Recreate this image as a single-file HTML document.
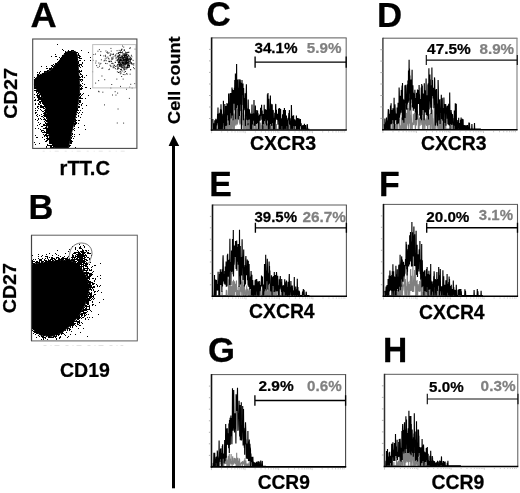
<!DOCTYPE html>
<html lang="en"><head><meta charset="utf-8"><title>Figure</title>
<style>html,body{margin:0;padding:0;background:#fff}svg{display:block}text{font-family:'Liberation Sans', Arial, Helvetica, sans-serif;stroke-linejoin:round}</style>
</head><body>
<svg width="520" height="493" viewBox="0 0 520 493">
<rect width="520" height="493" fill="#fff"/>
<text transform="translate(30.6 26.5) scale(1.022 1)" font-size="35.5" font-weight="bold" fill="#000" stroke="#000" stroke-width="0.25">A</text>
<text transform="translate(28.5 218.6) scale(0.970 1)" font-size="35.5" font-weight="bold" fill="#000" stroke="#000" stroke-width="0.25">B</text>
<text transform="translate(206.5 25.9) scale(0.946 1)" font-size="35.5" font-weight="bold" fill="#000" stroke="#000" stroke-width="0.25">C</text>
<text transform="translate(376.9 27.1) scale(0.980 1)" font-size="35.5" font-weight="bold" fill="#000" stroke="#000" stroke-width="0.25">D</text>
<text transform="translate(209.3 196.3) scale(0.952 1)" font-size="35.5" font-weight="bold" fill="#000" stroke="#000" stroke-width="0.25">E</text>
<text transform="translate(379.1 195.8) scale(0.956 1)" font-size="35.5" font-weight="bold" fill="#000" stroke="#000" stroke-width="0.25">F</text>
<text transform="translate(208.1 361.9) scale(0.977 1)" font-size="35.5" font-weight="bold" fill="#000" stroke="#000" stroke-width="0.25">G</text>
<text transform="translate(383 362) scale(0.945 1)" font-size="35.5" font-weight="bold" fill="#000" stroke="#000" stroke-width="0.25">H</text>
<text transform="translate(16.8 118.8) rotate(-90) scale(1.086 1)" font-size="18.3" font-weight="bold" fill="#000" stroke="#000" stroke-width="0.25">CD27</text>
<text transform="translate(59.6 174.6) scale(1.040 1)" font-size="19.4" font-weight="bold" fill="#000" stroke="#000" stroke-width="0.25">rTT.C</text>
<text transform="translate(16.4 313.3) rotate(-90) scale(1.075 1)" font-size="18.3" font-weight="bold" fill="#000" stroke="#000" stroke-width="0.25">CD27</text>
<text transform="translate(60 376.7) scale(0.976 1)" font-size="20" font-weight="bold" fill="#000" stroke="#000" stroke-width="0.25">CD19</text>
<text transform="translate(179.9 123.9) rotate(-90) scale(1.040 1)" font-size="17.4" font-weight="bold" fill="#000" stroke="#000" stroke-width="0.25">Cell count</text>
<text transform="translate(249.9 149.6) scale(1.009 1)" font-size="19.4" font-weight="bold" fill="#000" stroke="#000" stroke-width="0.25">CXCR3</text>
<text transform="translate(420.9 150.4) scale(1.000 1)" font-size="19.4" font-weight="bold" fill="#000" stroke="#000" stroke-width="0.25">CXCR3</text>
<text transform="translate(249 318.4) scale(0.999 1)" font-size="19.4" font-weight="bold" fill="#000" stroke="#000" stroke-width="0.25">CXCR4</text>
<text transform="translate(419 318.6) scale(0.999 1)" font-size="19.4" font-weight="bold" fill="#000" stroke="#000" stroke-width="0.25">CXCR4</text>
<text transform="translate(257.7 488.8) scale(0.988 1)" font-size="19.4" font-weight="bold" fill="#000" stroke="#000" stroke-width="0.25">CCR9</text>
<text transform="translate(431.5 488.5) scale(1.002 1)" font-size="19.4" font-weight="bold" fill="#000" stroke="#000" stroke-width="0.25">CCR9</text>
<rect x="172" y="144" width="3" height="344.3" fill="#000"/>
<path d="M173.6 135.3L179.2 146H168.6Z" fill="#000"/>
<clipPath id="ca"><rect x="33.4" y="39.5" width="103" height="108.4"/></clipPath>
<g clip-path="url(#ca)">
<path d="M67 51.8L62.8 55.8L57.2 63.8L50.8 70.2L43.5 73.4L37.8 76L34.6 80L34.4 84.8L37 90L40 93.5L42.5 98L45.5 105.5L47.5 119L48.5 132.4L50.5 141.8L55 148.2L68.4 148.2L69.7 141.8L71.7 132.4L75.1 118.9L77.8 105.5L79.6 92L79.4 80.4L78.3 66.9L77.3 55L75.5 51.4Z" fill="#000" stroke="#000" stroke-width="0.8" stroke-linejoin="round"/>
<path d="M53 66.5h1M49 69.5h1M64 53.5h1M62 49.5h1M62 56.5h1M59 60.5h1M51 67.5h1M55 56.5h1M59 62.5h1M55 63.5h1M65 51.5h1M56 64.5h1M60 59.5h1M50 69.5h1M47 71.5h1M34 77.5h1M60 58.5h1M65 54.5h1M56 63.5h1M39 75.5h1M63 50.5h1M40 74.5h1M65 53.5h1M57 59.5h1M54 67.5h1M63 55.5h1M45 71.5h1M37 76.5h1M52 66.5h1M50 68.5h1M40 71.5h1M38 74.5h1M48 70.5h1M46 66.5h1M44 72.5h1M43 73.5h1M66 52.5h1M37 75.5h1M47 70.5h1M38 75.5h1M51 65.5h1M59 61.5h1M54 65.5h1M36 79.5h1M65 52.5h1M67 52.5h1M61 57.5h1M44 73.5h1M51 68.5h1M37 74.5h1M59 57.5h1M42 73.5h1M57 62.5h1M44 71.5h1M36 78.5h1M58 61.5h1M37 72.5h1M52 69.5h1M37 77.5h1M39 72.5h1M47 68.5h1M61 58.5h1M49 71.5h1M53 64.5h1M46 68.5h1M56 56.5h1M51 56.5h1M62 55.5h1M39 73.5h1M35 78.5h1M46 71.5h1M49 68.5h1M55 54.5h1M57 44.5h1M52 65.5h1M41 66.5h1M55 64.5h1M47 144.5h1M44 106.5h1M35 99.5h1M38 106.5h1M47 133.5h1M46 110.5h1M46 118.5h1M44 128.5h1M48 130.5h1M45 104.5h1M36 115.5h1M49 135.5h1M52 144.5h1M47 121.5h1M46 120.5h1M39 99.5h1M48 131.5h1M50 143.5h1M37 116.5h1M46 136.5h1M40 93.5h1M46 125.5h1M41 94.5h1M43 103.5h1M43 124.5h1M46 147.5h1M43 108.5h1M46 111.5h1M34 84.5h1M39 94.5h1M51 145.5h1M34 85.5h1M39 101.5h1M35 90.5h1M46 128.5h1M41 110.5h1M43 104.5h1M46 135.5h1M42 132.5h1M44 116.5h1M41 131.5h1M45 132.5h1M41 116.5h1M44 136.5h1M42 116.5h1M43 99.5h1M35 88.5h1M47 120.5h1M47 131.5h1M35 100.5h1M53 147.5h1M47 135.5h1M40 106.5h1M37 91.5h1M49 132.5h1M34 86.5h1M36 112.5h1M48 135.5h1M39 95.5h1M42 101.5h1M47 129.5h1M35 112.5h1M41 105.5h1M41 99.5h1M42 106.5h1M35 104.5h1M50 137.5h1M48 128.5h1M35 87.5h1M43 134.5h1M34 80.5h1M45 125.5h1M47 124.5h1M47 136.5h1M46 117.5h1M50 146.5h1M44 119.5h1M47 111.5h1M44 118.5h1M37 93.5h1M47 130.5h1M37 94.5h1M36 92.5h1M49 124.5h1M45 120.5h1M47 139.5h1M45 115.5h1M45 110.5h1M46 115.5h1M40 107.5h1M51 143.5h1M53 145.5h1M48 119.5h1M37 114.5h1M35 103.5h1M44 102.5h1M37 95.5h1M38 92.5h1M41 126.5h1M49 145.5h1M38 100.5h1M34 97.5h1M43 117.5h1M44 114.5h1M53 146.5h1M39 96.5h1M46 109.5h1M45 119.5h1M40 98.5h1M42 95.5h1M42 111.5h1M38 97.5h1M42 107.5h1M47 140.5h1M48 139.5h1M50 140.5h1M44 104.5h1M37 107.5h1M51 142.5h1M49 141.5h1M45 106.5h1M47 128.5h1M49 140.5h1M34 82.5h1M45 127.5h1M47 123.5h1M44 105.5h1M43 106.5h1M34 87.5h1M37 106.5h1M38 93.5h1M38 119.5h1M38 108.5h1M42 100.5h1M38 96.5h1M45 122.5h1M38 104.5h1M38 128.5h1M44 113.5h1M46 116.5h1M47 114.5h1M48 127.5h1M41 114.5h1M47 137.5h1M44 139.5h1M36 86.5h1M34 88.5h1M46 127.5h1M44 101.5h1M41 98.5h1M34 83.5h1M45 112.5h1M34 142.5h1M39 91.5h1M40 105.5h1M45 134.5h1M35 135.5h1M43 100.5h1M46 131.5h1M36 90.5h1M50 142.5h1M35 110.5h1M46 138.5h1M53 144.5h1M39 102.5h1M39 124.5h1M39 98.5h1M46 112.5h1M40 118.5h1M36 87.5h1M46 141.5h1M44 121.5h1M47 110.5h1M40 109.5h1M51 146.5h1M37 100.5h1M37 110.5h1M52 145.5h1M45 107.5h1M38 103.5h1M46 129.5h1M41 101.5h1M41 107.5h1M49 133.5h1M34 90.5h1M38 95.5h1M43 107.5h1M34 79.5h1M44 112.5h1M39 115.5h1M40 97.5h1M44 108.5h1M47 112.5h1M37 120.5h1M40 101.5h1M43 115.5h1M38 99.5h1M40 99.5h1M43 101.5h1M50 145.5h1M47 119.5h1M40 103.5h1M43 113.5h1M36 91.5h1M41 119.5h1M46 130.5h1M45 128.5h1M40 94.5h1M46 132.5h1M35 108.5h1M41 97.5h1M44 115.5h1M35 119.5h1M47 115.5h1M42 103.5h1M45 111.5h1M52 143.5h1M54 144.5h1M34 81.5h1M43 119.5h1M37 137.5h1M44 103.5h1M50 141.5h1M47 116.5h1M39 104.5h1M45 105.5h1M39 143.5h1M42 126.5h1M43 111.5h1M38 98.5h1M45 116.5h1M45 114.5h1M34 100.5h1M51 147.5h1M46 114.5h1M36 137.5h1M43 130.5h1M49 139.5h1M46 140.5h1M50 147.5h1M35 113.5h1M47 132.5h1M39 97.5h1M48 132.5h1M45 135.5h1M44 124.5h1M46 134.5h1M37 97.5h1M40 123.5h1M41 106.5h1M44 135.5h1M41 100.5h1M52 147.5h1M48 145.5h1M37 96.5h1M47 138.5h1M44 125.5h1M41 96.5h1M45 141.5h1M42 98.5h1M43 128.5h1M35 144.5h1M38 118.5h1M48 122.5h1M38 122.5h1M49 137.5h1M54 146.5h1M35 128.5h1M36 95.5h1M44 132.5h1M38 90.5h1M40 129.5h1M44 131.5h1M41 130.5h1M49 143.5h1M37 125.5h1M40 102.5h1M49 138.5h1M48 124.5h1M42 130.5h1M34 94.5h1M38 91.5h1M41 95.5h1M43 125.5h1M45 123.5h1M46 121.5h1M42 99.5h1M49 142.5h1M48 133.5h1M47 145.5h1M42 102.5h1M47 125.5h1M46 133.5h1M46 124.5h1M43 102.5h1M36 88.5h1M48 129.5h1M39 92.5h1M47 117.5h1M46 123.5h1M44 110.5h1M46 126.5h1M43 132.5h1M37 90.5h1M48 138.5h1M45 109.5h1M42 137.5h1M46 146.5h1M45 113.5h1M75 119.5h1M78 62.5h1M71 138.5h1M80 74.5h1M79 77.5h1M81 98.5h1M81 88.5h1M79 112.5h1M79 76.5h1M69 146.5h1M74 121.5h1M78 57.5h1M73 138.5h1M75 122.5h1M80 102.5h1M79 60.5h1M81 85.5h1M69 145.5h1M70 143.5h1M79 102.5h1M80 97.5h1M78 53.5h1M79 57.5h1M71 141.5h1M72 141.5h1M79 104.5h1M79 85.5h1M78 103.5h1M74 126.5h1M70 145.5h1M76 114.5h1M81 81.5h1M78 54.5h1M80 88.5h1M78 65.5h1M76 111.5h1M77 110.5h1M76 110.5h1M78 116.5h1M76 120.5h1M80 64.5h1M82 66.5h1M81 87.5h1M78 123.5h1M74 123.5h1M82 83.5h1M75 124.5h1M79 100.5h1M82 98.5h1M79 79.5h1M79 97.5h1M80 73.5h1M82 75.5h1M71 143.5h1M74 125.5h1M77 108.5h1M78 96.5h1M70 142.5h1M80 77.5h1M77 59.5h1M70 141.5h1M70 140.5h1M80 84.5h1M79 70.5h1M78 71.5h1M79 56.5h1M75 120.5h1M80 110.5h1M74 128.5h1M80 89.5h1M72 134.5h1M71 135.5h1M78 63.5h1M80 67.5h1M71 142.5h1M79 106.5h1M79 58.5h1M78 55.5h1M79 65.5h1M80 93.5h1M71 137.5h1M81 89.5h1M79 66.5h1M73 123.5h1M78 61.5h1M80 85.5h1M75 121.5h1M77 52.5h1M76 117.5h1M78 106.5h1M80 94.5h1M72 136.5h1M78 80.5h1M79 107.5h1M76 52.5h1M70 139.5h1M79 71.5h1M81 95.5h1M80 80.5h1M79 98.5h1M80 79.5h1M79 64.5h1M80 86.5h1M80 71.5h1M76 122.5h1M79 101.5h1M78 107.5h1M81 70.5h1M75 116.5h1M76 123.5h1M77 109.5h1M79 55.5h1M80 100.5h1M77 112.5h1M73 129.5h1M74 124.5h1M80 117.5h1M71 140.5h1M79 95.5h1M72 133.5h1M80 96.5h1M79 72.5h1M79 94.5h1M74 136.5h1M80 101.5h1M82 108.5h1M74 134.5h1M75 147.5h1M82 76.5h1M78 127.5h1M74 130.5h1M83 93.5h1M90 60.5h1M78 120.5h1M68 50.5h1M69 51.5h1M71 51.5h1M68 51.5h1M74 51.5h1M70 51.5h1M73 50.5h1M71 50.5h1M72 50.5h1M78 115.5h1M84 84.5h1M82 80.5h1M82 86.5h1M81 58.5h1M81 114.5h1M90 88.5h1M78 113.5h1M84 125.5h1M86 87.5h1M82 103.5h1M82 79.5h1M86 105.5h1M80 56.5h1M82 63.5h1M81 105.5h1M85 87.5h1M81 74.5h1M84 77.5h1M81 71.5h1M85 98.5h1M90 57.5h1M81 79.5h1M82 112.5h1M78 110.5h1M81 65.5h1M82 77.5h1M84 60.5h1M88 52.5h1M81 64.5h1M80 58.5h1M82 62.5h1M82 94.5h1M88 95.5h1M75 123.5h1M82 88.5h1M80 98.5h1M79 134.5h1M81 104.5h1M81 76.5h1M80 60.5h1M86 75.5h1M79 120.5h1M81 50.5h1M85 129.5h1" stroke="#000" stroke-width="1" fill="none" opacity="1.0"/>
<path d="M122.6 53.6h0.9M123.6 65h0.9M127.4 56.9h0.9M122.6 58.2h0.9M122.2 58.9h0.9M122.9 55.6h0.9M125.3 59.2h0.9M124.8 61.2h0.9M130.9 63.6h0.9M128.6 67.5h0.9M124.8 60h0.9M118.7 65.6h0.9M124.3 54.3h0.9M128.8 66.2h0.9M125.7 60h0.9M129.7 59.7h0.9M117.7 53.3h0.9M124.8 67.1h0.9M127.6 66.9h0.9M122.8 55h0.9M125.3 58.2h0.9M126.2 63.6h0.9M131.2 59.4h0.9M124.9 53.9h0.9M120.4 59h0.9M123.1 63.8h0.9M124.3 55.4h0.9M124.8 62.7h0.9M127.5 62h0.9M127.1 67.6h0.9M126.4 58.9h0.9M122.6 65.7h0.9M123.8 50h0.9M127.3 57.5h0.9M121.7 60.6h0.9M118.9 60.1h0.9M126.3 59.9h0.9M118.9 58.8h0.9M123.9 60.7h0.9M122.7 62.8h0.9M120.1 59.5h0.9M123.9 55.5h0.9M129.5 61.9h0.9M125.7 52.6h0.9M128.8 58.4h0.9M123.1 68.9h0.9M128.5 65h0.9M120.2 63h0.9M130.9 63.8h0.9M125.1 55.6h0.9M133.4 63.6h0.9M125.5 60h0.9M118.8 60.6h0.9M126.5 68.7h0.9M117.2 66.1h0.9M122.4 67.7h0.9M128.1 55.3h0.9M119.4 61.1h0.9M120.6 66.2h0.9M124.4 54.2h0.9M126.8 62.4h0.9M120.2 64.4h0.9M123.9 68.8h0.9M120.4 60.1h0.9M125.7 55.3h0.9M121.9 66.9h0.9M123.8 59.5h0.9M118.8 64.4h0.9M129.8 57.6h0.9M126 60.1h0.9M128.5 60.2h0.9M120.3 60.1h0.9M126.1 62.7h0.9M119 65.2h0.9M119.4 64.5h0.9M126.2 56.8h0.9M125.7 62.3h0.9M122.8 66.1h0.9M125.4 61.9h0.9M125.3 55.6h0.9M121.9 59h0.9M124.6 55.3h0.9M123.3 59.6h0.9M127.5 63.9h0.9M128.5 56.4h0.9M128.6 59h0.9M122.4 57.8h0.9M123.2 60.7h0.9M122.5 54.2h0.9M121.6 62.6h0.9M120.7 73h0.9M119.3 62h0.9M121.6 60.1h0.9M130.2 62.9h0.9M126.7 66.7h0.9M128 52.4h0.9M130.4 62.9h0.9M120.7 58.5h0.9M127.7 63h0.9M125.6 63.7h0.9M122.8 74.5h0.9M125.5 54.6h0.9M129.4 48.5h0.9M127.8 65.7h0.9M127 60.1h0.9M124.3 64.7h0.9M123.3 59.9h0.9M123.7 62.6h0.9M125.7 63.6h0.9M116.4 66h0.9M122.7 67.9h0.9M128.5 52.2h0.9M124.7 56.6h0.9M121.4 62.1h0.9M126.8 65.3h0.9M126.9 57.9h0.9M133.9 68.7h0.9M126.9 62.5h0.9M126.2 63.9h0.9M123.8 55.4h0.9M122.2 57.1h0.9M127 65.6h0.9M129.4 56.2h0.9M128.6 61.6h0.9M123.7 56.7h0.9M126.6 67h0.9M122.9 62.6h0.9M128.9 66.7h0.9M125.4 63.2h0.9M125.9 54.7h0.9M124.8 62.3h0.9M129.8 57.9h0.9M130.3 69.7h0.9M127.3 57.9h0.9M125.7 59h0.9M130 69.7h0.9M129.6 61.7h0.9M128.7 65.7h0.9M126.8 63.9h0.9M124.4 63.5h0.9M129.2 59.1h0.9M123.4 62.1h0.9M129.9 60.9h0.9M125.9 57.4h0.9M118 64.1h0.9M118.2 61.8h0.9M128.1 55.3h0.9M122 56.4h0.9M121.7 61.2h0.9M127.7 62.3h0.9M125.6 59h0.9M124.2 69.6h0.9M118.5 68.5h0.9M132.7 60.4h0.9M124.7 57.4h0.9M127.3 60.1h0.9M126.3 60.8h0.9M125.7 55.5h0.9M126.4 62.1h0.9M133.3 65.1h0.9M122.1 62.3h0.9M121.7 61h0.9M118.6 56h0.9M129.9 59h0.9M126.8 58.7h0.9M125.9 60.1h0.9M122.2 51.9h0.9M125.1 52.1h0.9M120.3 59.7h0.9M119.4 60.4h0.9M119.3 66.5h0.9M122.6 57.5h0.9M121 49.4h0.9M123.1 59.8h0.9M127.3 56.6h0.9M125 59.2h0.9M119.9 64.2h0.9M125 57.2h0.9M122.5 58.5h0.9M121.2 66.5h0.9M128.6 62.9h0.9M124.7 55.8h0.9M121.6 56.4h0.9M122.1 46h0.9M124.5 64.4h0.9M122.2 63.6h0.9M119.9 66.7h0.9M112.8 63.8h0.9M126.1 61.8h0.9M131.8 63.9h0.9M123.8 50.6h0.9M125.7 59.7h0.9M120.2 69.5h0.9M119.8 71.5h0.9M130.2 59.1h0.9M129.9 60.9h0.9M121.9 57.1h0.9M132.5 64.2h0.9M115.2 66.5h0.9M127.9 60h0.9M115.8 60.2h0.9M122 63.2h0.9M126.4 60.4h0.9M129.8 59.6h0.9M126.9 67.2h0.9M127.9 61.8h0.9M123.3 47.1h0.9M124.1 56.9h0.9M128.5 61.2h0.9M124.2 66.7h0.9M120.4 60.4h0.9M121.6 49.2h0.9M125.5 62.7h0.9M125.6 53.1h0.9M118 62.7h0.9M126.9 52.4h0.9M126.6 54.2h0.9M122.9 63.9h0.9M125.8 54h0.9M122 62.6h0.9M125.9 58.8h0.9M128.5 59.3h0.9M127 67.1h0.9M127.4 67.5h0.9M123.5 63h0.9M124.1 57.3h0.9M122.7 64.6h0.9M120.9 52.6h0.9M119.6 63.4h0.9M124.4 58.9h0.9M125.6 57.6h0.9M124 59.3h0.9M121.7 71h0.9M125.4 63.5h0.9M127.1 59.1h0.9M124.8 61.9h0.9M119.2 65.8h0.9M128.5 65h0.9M128.3 64.1h0.9M126.7 55h0.9M126.4 54.4h0.9M118 58.5h0.9M128 62.8h0.9M130.9 58.5h0.9M126.9 62.6h0.9M128.6 63.5h0.9M121.6 63h0.9M121.2 57.5h0.9M123.6 54.2h0.9M128.2 65.5h0.9M127.1 60.7h0.9M128.1 59.1h0.9M127.1 59.6h0.9M124.5 61.1h0.9M127.9 64.7h0.9M131.4 56.8h0.9M117.9 62.9h0.9M126.8 58.5h0.9M129.1 65.5h0.9M118.9 61.4h0.9M124.5 65.2h0.9M125.6 60.3h0.9M125.2 59.3h0.9M126.6 63.2h0.9M123.2 59.5h0.9M127.1 62.2h0.9M123.5 57.6h0.9M126 61.2h0.9M119.1 52.5h0.9M133 67.6h0.9M123.9 61h0.9M126.2 55.4h0.9M123.8 72.2h0.9M114.9 62.3h0.9M122.5 67.5h0.9M124.5 64h0.9M125.6 69.2h0.9M123.3 60.4h0.9M119.6 72.2h0.9M126.3 58.3h0.9M131.1 55.3h0.9M123.9 50h0.9M123.6 63.3h0.9M121.8 62.6h0.9M123.2 58.3h0.9M127.6 65.5h0.9M126.1 73.7h0.9M125.1 63.1h0.9M121.1 64.3h0.9M126.1 61.4h0.9M121.9 65.1h0.9M127.2 58.6h0.9M124.1 56.3h0.9M128.3 60.6h0.9M121.2 64.6h0.9M124.8 60.8h0.9M123.5 66.1h0.9M122.6 65h0.9M131 62.7h0.9M123.7 70h0.9M118.7 55.5h0.9M130.1 59.6h0.9M120.3 57.6h0.9M127.1 64.2h0.9M119.1 62.5h0.9M124.5 53.9h0.9M122.5 61h0.9M125.7 67.5h0.9M121 59.8h0.9M121.8 52.5h0.9M127.6 67.3h0.9M128.3 59.4h0.9M121 67.4h0.9M123.5 63.2h0.9M123.4 57.4h0.9M126.7 52.6h0.9M125.1 71.5h0.9M124.6 68.8h0.9M117 60h0.9M119 65h0.9M127 58.5h0.9M125.1 64.7h0.9M122.9 60.9h0.9M126.5 56.5h0.9M124.2 67.4h0.9M123.3 58.2h0.9M125.9 67.9h0.9M126.7 56.4h0.9M122.2 55.8h0.9M100.9 59.8h0.9M120.5 61h0.9M117.8 68.8h0.9M117.6 56.2h0.9M108.9 61.7h0.9M120.1 52.6h0.9M117.4 57.3h0.9M109.9 55.7h0.9M120.1 65.5h0.9M117.8 53.6h0.9M115.7 57.4h0.9M120.7 50.3h0.9M118.3 57.6h0.9M119 57.4h0.9M120.1 57.5h0.9M120.3 52.7h0.9M108.5 52.7h0.9M113.4 66.9h0.9M118.3 53.1h0.9M116.9 71.8h0.9M112.3 58h0.9M112.5 58.8h0.9M117.6 61.8h0.9M118.8 55.1h0.9M112.6 54.6h0.9M100.4 63.4h0.9M120.1 60h0.9M117.1 64.8h0.9M107.4 57.1h0.9M119.3 54.5h0.9M118.1 67.1h0.9M109.9 54.1h0.9M120.7 55.7h0.9M117.2 64.8h0.9M118.2 59.5h0.9M115.4 55.9h0.9M112.7 56.9h0.9M118.1 62.6h0.9M118.8 59.3h0.9M119.9 58h0.9M115 68.7h0.9M111.6 59.4h0.9M109.5 61.6h0.9M120.8 65.8h0.9M114.8 62.4h0.9M119.9 60.5h0.9M117.4 56.5h0.9M120.3 60.5h0.9M119.9 73.8h0.9M100.2 55.5h0.9M119.8 63.1h0.9M120.9 69.8h0.9M119.6 52.3h0.9M98.9 49.6h0.9M105.2 56.6h0.9M97.5 67.4h0.9M101.5 68.3h0.9M107.9 58.4h0.9M110.7 54.2h0.9M98.4 63h0.9M113.8 65.4h0.9M103.6 60.9h0.9M110.5 48.4h0.9M109 61.3h0.9M118.8 57h0.9M120.9 50.4h0.9M97.5 51.2h0.9M120.9 64h0.9M117.7 58.8h0.9M111.9 63.3h0.9M107.5 53.5h0.9M120 51.1h0.9M118.1 52.8h0.9M109.6 65.2h0.9M109.6 55.6h0.9M106.5 52.5h0.9M104.7 59h0.9M105.8 60.7h0.9M110.6 61h0.9M106.6 63.6h0.9M109 69.1h0.9M119.5 64.1h0.9M112.7 66.1h0.9M119.5 62.9h0.9M105.8 58.1h0.9M96.2 65.6h0.9M114.2 65.3h0.9M100 55.2h0.9M118.7 61.8h0.9M105.1 55.3h0.9M120.7 69.9h0.9M102.3 68h0.9M95.6 61h0.9M117.7 55.7h0.9M120.4 57.2h0.9M105.5 51h0.9M120.7 60.4h0.9M119.5 61.2h0.9M120.8 69.1h0.9M120.8 56.4h0.9M105.1 63.4h0.9M104.4 60.5h0.9M117.2 68.2h0.9M108.6 59h0.9M115.6 58.4h0.9M116.3 53.8h0.9M111 61.6h0.9M116.6 50.7h0.9M111.3 58.9h0.9M119.2 62.6h0.9M95.3 63h0.9M116.8 69.4h0.9M110.8 51.1h0.9M117.1 59.8h0.9M95.1 54.1h0.9M115.1 55h0.9M112.6 54.3h0.9M119.3 55.2h0.9M111.3 57.8h0.9M108.3 61.3h0.9M118.5 64.6h0.9M93.3 54.5h0.9M92.6 60.3h0.9M126 89.2h0.9M113.1 54.1h0.9M107.1 52h0.9M108.4 69.6h0.9M112.1 95h0.9M114.5 56h0.9M98.2 80.6h0.9M113.7 67.7h0.9M112.7 67.7h0.9M121.2 76.5h0.9M92.2 71.8h0.9M101.5 76h0.9M111.3 84.5h0.9M134.4 83.6h0.9M118.4 72.4h0.9M95.2 83.1h0.9M99.1 66.2h0.9M116.9 60.7h0.9M129.7 74.2h0.9M134.7 49.1h0.9M111.4 63.5h0.9M116.4 79.1h0.9M117.2 93.1h0.9M110.3 65.8h0.9M124.5 74.6h0.9M102.4 92.2h0.9M100.4 51.6h0.9M114.7 91.7h0.9M129.3 87.2h0.9M118.1 72.5h0.9M103.4 55.9h0.9M110.4 88h0.9M115.5 95.1h0.9M126.8 74.1h0.9M117.2 68h0.9M131.7 88h0.9M98.2 91.3h0.9M121.1 65.3h0.9M122.7 79.1h0.9M120.1 86.4h0.9M116.8 123h0.9M130.3 84.3h0.9M104.1 104.9h0.9M118.7 50.4h0.9M110.5 66.6h0.9M117.7 56.7h0.9M99.5 64.2h0.9M98.6 91.8h0.9M128.9 98.4h0.9M117.6 109h0.9M104.3 79.7h0.9M117.9 60.2h0.9M123.2 123.1h0.9M129.8 47.7h0.9" stroke="#000" stroke-width="0.9" fill="none"/>
</g>
<rect x="92.7" y="44.6" width="43.2" height="43.3" fill="none" stroke="#bdbdbd" stroke-width="1"/>
<rect x="32.7" y="39" width="104.2" height="109.4" fill="none" stroke="#4a4a4a" stroke-width="1.1"/>
<path d="M42.7 151.2H128.9" stroke="#e6e6e6" stroke-width="1" stroke-dasharray="2 5 1 4 4 6" fill="none"/>
<clipPath id="cb"><rect x="32" y="235.7" width="104.8" height="104.7"/></clipPath>
<g clip-path="url(#cb)">
<path d="M29 264.6L32.6 264.3L43.4 262.8L58.8 260.5L69.5 260.5L75.7 262.8L81.8 268.9L87.2 278.2L89.3 289L88 294.2L84.9 305L78.8 315.8L71.1 325L61.8 332.7L51 336.5L40.3 335L32.6 329L29 326Z" fill="#000" stroke="#000" stroke-width="0.8" stroke-linejoin="round"/>
<path d="M56 254.5h1M42 261.5h1M36 262.5h1M41 261.5h1M51 258.5h1M39 259.5h1M38 262.5h1M53 260.5h1M37 262.5h1M32 260.5h1M45 256.5h1M59 260.5h1M49 253.5h1M58 257.5h1M35 264.5h1M57 260.5h1M44 259.5h1M43 261.5h1M50 260.5h1M45 258.5h1M45 260.5h1M41 260.5h1M33 259.5h1M49 260.5h1M56 260.5h1M52 259.5h1M39 262.5h1M41 259.5h1M37 264.5h1M44 262.5h1M42 258.5h1M58 258.5h1M40 263.5h1M49 261.5h1M29 261.5h1M50 259.5h1M47 261.5h1M35 262.5h1M54 259.5h1M58 259.5h1M33 263.5h1M40 260.5h1M46 261.5h1M59 258.5h1M41 262.5h1M57 257.5h1M33 261.5h1M45 262.5h1M48 260.5h1M37 261.5h1M55 253.5h1M45 261.5h1M55 260.5h1M54 261.5h1M32 255.5h1M46 260.5h1M52 260.5h1M40 259.5h1M47 257.5h1M34 263.5h1M46 256.5h1M47 258.5h1M55 259.5h1M30 261.5h1M30 258.5h1M35 259.5h1M52 258.5h1M46 254.5h1M32 263.5h1M48 259.5h1M51 259.5h1M30 263.5h1M38 256.5h1M50 261.5h1M57 250.5h1M31 263.5h1M30 264.5h1M39 263.5h1M51 257.5h1M52 257.5h1M44 260.5h1M56 257.5h1M31 253.5h1M36 261.5h1M52 261.5h1M41 256.5h1M36 263.5h1M46 262.5h1M51 262.5h1M48 262.5h1M33 264.5h1M42 262.5h1M53 258.5h1M54 258.5h1M36 264.5h1M58 260.5h1M56 258.5h1M32 262.5h1M39 260.5h1M38 258.5h1M34 261.5h1M32 261.5h1M39 261.5h1M48 261.5h1M52 255.5h1M42 255.5h1M38 254.5h1M47 256.5h1M51 261.5h1M49 257.5h1M72 259.5h1M61 259.5h1M69 259.5h1M66 259.5h1M83 266.5h1M64 256.5h1M83 265.5h1M71 260.5h1M62 260.5h1M68 260.5h1M74 260.5h1M65 258.5h1M85 265.5h1M79 265.5h1M63 258.5h1M63 259.5h1M78 263.5h1M60 259.5h1M72 260.5h1M82 262.5h1M72 258.5h1M74 261.5h1M69 249.5h1M75 259.5h1M78 265.5h1M83 261.5h1M79 262.5h1M60 256.5h1M64 258.5h1M76 263.5h1M72 255.5h1M80 260.5h1M67 258.5h1M61 260.5h1M73 259.5h1M69 260.5h1M79 260.5h1M67 260.5h1M73 261.5h1M62 257.5h1M70 260.5h1M67 257.5h1M69 258.5h1M81 266.5h1M71 259.5h1M72 254.5h1M66 258.5h1M74 252.5h1M76 261.5h1M72 257.5h1M80 266.5h1M74 259.5h1M74 257.5h1M81 262.5h1M73 253.5h1M77 262.5h1M80 264.5h1M61 258.5h1M75 261.5h1M73 257.5h1M62 259.5h1M74 258.5h1M72 262.5h1M81 268.5h1M73 256.5h1M68 259.5h1M82 266.5h1M78 254.5h1M73 260.5h1M79 264.5h1M72 256.5h1M64 260.5h1M65 253.5h1M76 264.5h1M75 262.5h1M78 264.5h1M65 259.5h1M68 256.5h1M62 258.5h1M59 259.5h1M76 258.5h1M81 264.5h1M79 261.5h1M71 257.5h1M66 260.5h1M67 259.5h1M81 267.5h1M79 266.5h1M63 257.5h1M58 255.5h1M78 252.5h1M88 284.5h1M77 321.5h1M74 321.5h1M87 309.5h1M90 282.5h1M88 278.5h1M89 297.5h1M81 315.5h1M89 289.5h1M86 305.5h1M88 282.5h1M90 289.5h1M83 268.5h1M79 317.5h1M87 298.5h1M83 269.5h1M78 317.5h1M74 323.5h1M91 292.5h1M91 287.5h1M87 296.5h1M87 306.5h1M91 293.5h1M91 286.5h1M81 314.5h1M85 272.5h1M80 317.5h1M88 302.5h1M93 278.5h1M84 307.5h1M75 321.5h1M82 323.5h1M84 272.5h1M78 321.5h1M86 301.5h1M100 285.5h1M84 270.5h1M88 276.5h1M84 312.5h1M87 300.5h1M78 316.5h1M90 297.5h1M92 282.5h1M84 268.5h1M92 288.5h1M82 315.5h1M88 281.5h1M79 318.5h1M89 296.5h1M84 310.5h1M86 270.5h1M86 299.5h1M83 267.5h1M82 311.5h1M79 316.5h1M74 324.5h1M91 294.5h1M75 323.5h1M88 298.5h1M86 303.5h1M83 309.5h1M87 278.5h1M89 273.5h1M90 283.5h1M78 319.5h1M90 288.5h1M90 293.5h1M84 309.5h1M76 320.5h1M91 289.5h1M77 318.5h1M73 321.5h1M78 324.5h1M92 272.5h1M86 275.5h1M90 294.5h1M79 320.5h1M85 306.5h1M81 311.5h1M87 299.5h1M82 313.5h1M89 308.5h1M78 318.5h1M89 284.5h1M81 313.5h1M90 298.5h1M91 267.5h1M89 305.5h1M86 274.5h1M92 278.5h1M90 284.5h1M83 313.5h1M96 284.5h1M90 281.5h1M91 269.5h1M97 276.5h1M87 303.5h1M71 325.5h1M89 298.5h1M83 270.5h1M72 324.5h1M90 296.5h1M88 280.5h1M94 298.5h1M77 323.5h1M88 296.5h1M100 278.5h1M85 312.5h1M89 286.5h1M87 302.5h1M87 280.5h1M75 325.5h1M89 285.5h1M89 293.5h1M87 275.5h1M86 302.5h1M89 306.5h1M73 323.5h1M87 301.5h1M94 281.5h1M76 321.5h1M85 275.5h1M89 279.5h1M84 273.5h1M88 286.5h1M83 317.5h1M89 282.5h1M77 322.5h1M82 310.5h1M76 326.5h1M90 300.5h1M89 292.5h1M90 273.5h1M79 315.5h1M86 306.5h1M88 277.5h1M88 292.5h1M94 280.5h1M83 312.5h1M80 314.5h1M84 269.5h1M85 273.5h1M86 271.5h1M92 304.5h1M85 308.5h1M92 298.5h1M89 281.5h1M77 319.5h1M81 309.5h1M87 272.5h1M90 286.5h1M89 269.5h1M87 277.5h1M86 300.5h1M73 325.5h1M86 273.5h1M86 308.5h1M83 310.5h1M83 273.5h1M88 285.5h1M88 300.5h1M77 317.5h1M73 324.5h1M94 286.5h1M92 274.5h1M88 294.5h1M82 317.5h1M87 336.5h1M71 324.5h1M79 325.5h1M87 273.5h1M82 314.5h1M89 287.5h1M87 297.5h1M83 308.5h1M88 268.5h1M85 268.5h1M90 295.5h1M88 301.5h1M85 305.5h1M89 294.5h1M87 274.5h1M83 311.5h1M88 295.5h1M80 332.5h1M78 328.5h1M79 322.5h1M89 275.5h1M81 318.5h1M85 270.5h1M86 314.5h1M90 287.5h1M91 290.5h1M88 309.5h1M89 299.5h1M79 321.5h1M87 268.5h1M93 284.5h1M90 275.5h1M85 310.5h1M89 309.5h1M94 287.5h1M78 322.5h1M77 324.5h1M73 322.5h1M88 319.5h1M90 276.5h1M89 277.5h1M97 291.5h1M85 309.5h1M89 264.5h1M91 297.5h1M84 314.5h1M86 272.5h1M93 287.5h1M93 283.5h1M93 304.5h1M83 328.5h1M90 285.5h1M92 266.5h1M98 314.5h1M103 299.5h1M91 296.5h1M84 316.5h1M79 323.5h1M81 316.5h1M94 291.5h1M91 270.5h1M87 267.5h1M95 265.5h1M72 323.5h1M85 318.5h1M100 263.5h1M85 319.5h1M81 322.5h1M100 275.5h1M101 292.5h1M80 325.5h1M32 328.5h1M38 335.5h1M69 328.5h1M56 334.5h1M43 337.5h1M68 328.5h1M36 333.5h1M56 335.5h1M59 338.5h1M32 327.5h1M69 330.5h1M39 334.5h1M43 339.5h1M49 337.5h1M36 332.5h1M57 334.5h1M33 333.5h1M31 329.5h1M30 329.5h1M56 339.5h1M47 339.5h1M54 336.5h1M70 326.5h1M49 336.5h1M61 333.5h1M56 338.5h1M58 334.5h1M59 337.5h1M44 335.5h1M37 333.5h1M72 327.5h1M44 337.5h1M53 336.5h1M48 337.5h1M38 332.5h1M70 329.5h1M41 335.5h1M41 339.5h1M55 336.5h1M41 336.5h1M36 331.5h1M59 334.5h1M54 335.5h1M42 336.5h1M52 337.5h1M62 332.5h1M50 337.5h1M70 327.5h1M70 334.5h1M51 337.5h1M48 336.5h1M60 336.5h1M42 337.5h1M72 325.5h1M45 338.5h1M31 327.5h1M43 336.5h1M68 336.5h1M55 337.5h1M71 331.5h1M69 329.5h1M34 331.5h1M46 336.5h1M66 332.5h1M33 329.5h1M56 336.5h1M63 333.5h1M32 330.5h1M35 331.5h1M43 335.5h1M61 334.5h1M35 332.5h1M36 337.5h1M58 335.5h1M67 330.5h1M64 334.5h1M65 335.5h1M33 331.5h1M72 326.5h1M29 327.5h1M60 337.5h1M65 330.5h1M67 337.5h1M67 328.5h1M31 328.5h1M37 332.5h1M43 338.5h1M33 328.5h1M45 337.5h1M29 328.5h1M70 325.5h1M34 332.5h1M39 336.5h1M35 334.5h1M62 333.5h1M67 329.5h1M53 337.5h1M75 334.5h1M83 251.5h1M74 253.5h1M79 252.5h1M77 259.5h1M77 256.5h1M84 255.5h1M80 259.5h1M84 258.5h1M80 247.5h1M77 250.5h1M81 259.5h1M83 256.5h1M81 258.5h1M81 260.5h1M75 248.5h1M85 250.5h1M79 257.5h1M82 253.5h1M84 259.5h1M79 256.5h1M87 260.5h1M79 247.5h1M81 257.5h1M85 254.5h1M84 256.5h1M75 256.5h1M85 259.5h1M80 262.5h1M83 253.5h1M87 253.5h1M78 260.5h1M68 262.5h1M82 251.5h1M85 257.5h1M79 254.5h1M79 255.5h1M82 264.5h1M77 260.5h1M80 257.5h1M77 254.5h1M86 251.5h1M81 261.5h1M83 255.5h1M80 254.5h1M75 252.5h1M82 250.5h1M75 257.5h1M73 255.5h1M75 253.5h1M78 272.5h1M78 259.5h1M84 261.5h1M86 264.5h1M80 255.5h1M87 264.5h1M79 259.5h1M78 257.5h1M82 257.5h1M74 265.5h1M83 263.5h1M80 261.5h1M75 247.5h1M75 249.5h1M81 254.5h1M86 250.5h1M87 257.5h1M84 257.5h1M91 255.5h1M75 255.5h1M76 256.5h1M80 246.5h1M79 248.5h1M78 253.5h1M88 250.5h1M84 253.5h1M82 254.5h1M79 258.5h1M84 252.5h1M80 263.5h1M80 258.5h1M80 253.5h1M80 256.5h1M83 258.5h1M79 253.5h1M80 248.5h1M72 246.5h1M86 260.5h1M84 262.5h1M85 252.5h1M79 244.5h1M83 260.5h1M78 256.5h1M82 261.5h1M78 261.5h1M77 257.5h1M79 263.5h1M80 271.5h1M78 262.5h1M77 263.5h1M78 255.5h1M82 255.5h1M81 263.5h1M84 263.5h1M83 262.5h1M85 255.5h1M76 259.5h1M83 254.5h1M82 252.5h1M75 263.5h1M84 246.5h1M77 255.5h1M89 259.5h1M83 245.5h1M81 265.5h1M82 256.5h1M81 256.5h1M88 253.5h1M86 255.5h1M84 247.5h1M86 265.5h1M87 252.5h1M84 260.5h1M82 259.5h1M88 252.5h1M89 258.5h1M81 252.5h1M78 251.5h1M77 252.5h1M82 258.5h1M83 252.5h1M86 256.5h1M81 255.5h1M85 263.5h1M83 264.5h1M81 251.5h1M83 250.5h1M76 252.5h1M81 248.5h1M85 261.5h1M82 260.5h1M86 266.5h1M77 258.5h1M86 263.5h1M88 257.5h1M89 253.5h1M86 259.5h1M85 264.5h1M80 270.5h1M76 254.5h1M82 249.5h1M90 253.5h1M77 264.5h1M85 266.5h1M80 251.5h1M68 251.5h1M86 312.5h1M85 315.5h1M92 287.5h1M86 309.5h1M91 299.5h1M87 317.5h1M93 299.5h1M93 286.5h1M95 291.5h1M94 283.5h1M89 283.5h1M87 311.5h1M88 306.5h1M93 290.5h1M91 282.5h1M89 317.5h1M90 262.5h1M95 278.5h1M92 302.5h1M93 296.5h1M88 272.5h1M92 296.5h1M92 305.5h1M91 295.5h1M94 292.5h1M88 304.5h1M99 302.5h1M88 273.5h1M93 297.5h1M92 283.5h1M89 274.5h1M86 268.5h1M93 295.5h1M95 279.5h1M93 271.5h1M87 266.5h1M91 274.5h1M89 300.5h1M89 270.5h1M86 310.5h1M89 307.5h1M91 285.5h1M90 270.5h1M86 307.5h1M87 263.5h1M97 286.5h1M92 284.5h1M88 314.5h1M89 276.5h1M98 290.5h1M91 311.5h1M87 269.5h1M91 275.5h1M87 304.5h1M92 317.5h1M94 265.5h1M84 315.5h1M84 265.5h1M94 294.5h1M92 301.5h1M99 286.5h1M84 313.5h1M95 294.5h1M88 299.5h1M88 303.5h1M85 313.5h1M91 273.5h1M86 262.5h1M90 274.5h1M97 285.5h1M89 278.5h1M95 305.5h1M87 276.5h1M93 289.5h1M90 310.5h1M87 270.5h1" stroke="#000" stroke-width="1" fill="none" opacity="1.0"/>
</g>
<path d="M70.6 259.5C67.6 258 69.4 255.9 69.6 254C69.8 252.1 70.4 249.6 71.5 248C72.6 246.4 74.3 245 76 244.2C77.7 243.4 79.6 243 81.5 243C83.4 243 85.6 243.5 87.2 244.4C88.8 245.3 90.2 246.9 91 248.5C91.8 250.1 92.1 252.2 92 254C91.9 255.8 91 258 90.3 259.5C89.5 261 90.8 263 87.5 263" fill="none" stroke="#606060" stroke-width="0.85"/>
<rect x="31.5" y="235.2" width="105.8" height="105.7" fill="none" stroke="#5e5e5e" stroke-width="1"/>
<path d="M31.5 235.2V340.9" stroke="#444" stroke-width="1.2" fill="none"/>
<path d="M43.5 345.5H123.3" stroke="#e2e2e2" stroke-width="1" stroke-dasharray="3 4 1 3 5 6" fill="none"/>
<path d="M212.8 129.3L213 129.3L213.2 129.3L213.4 129.3L213.6 129.3L213.8 129.3L214 129.3L214.2 129.3L214.4 129.3L214.6 129.3L214.8 129.3L215 129.3L215.2 129.3L215.4 129.3L215.6 129.3L215.8 129.3L216 129.3L216.2 129.3L216.4 129.3L216.6 129.3L216.8 129.3L217 129.3L217.2 129.3L217.4 129.3L217.6 129.3L217.8 129.3L218 129.3L218.2 129.3L218.4 129.3L218.6 129.3L218.8 129.3L219 129.3L219.2 123.6L219.4 129.3L219.6 129.3L219.8 129.3L220 129.3L220.2 129.3L220.4 125.1L220.6 129.3L220.8 129.3L221 129.3L221.2 129.3L221.4 129.3L221.6 129.3L221.8 129.3L222 129.3L222.2 129.3L222.4 129.3L222.6 129.3L222.8 129.3L223 129.3L223.2 129.3L223.4 129.3L223.6 129.3L223.8 129.3L224 129.3L224.2 129.3L224.4 129.3L224.6 129.3L224.8 129.3L225 129.3L225.2 129.3L225.4 129.3L225.6 122.9L225.8 129.3L226 129.3L226.2 125.5L226.4 123.4L226.6 118.4L226.8 129.3L227 129.3L227.2 122.7L227.4 125.6L227.6 124L227.8 129.3L228 129.3L228.2 118.9L228.4 129.3L228.6 117.9L228.8 122.8L229 120.6L229.2 118.4L229.4 116L229.6 129.3L229.8 129.3L230 129.3L230.2 118.1L230.4 129.3L230.6 129.3L230.8 113.2L231 129.3L231.2 118.4L231.4 125.8L231.6 129.3L231.8 129.3L232 129.3L232.2 129.3L232.4 120.8L232.6 120.2L232.8 124L233 119.3L233.2 121L233.4 129.3L233.6 119.9L233.8 113.4L234 125.8L234.2 118.4L234.4 129.3L234.6 118.8L234.8 120.8L235 110.2L235.2 99.3L235.4 107.7L235.6 125.6L235.8 122.7L236 125.4L236.2 123.2L236.4 104.4L236.6 119.3L236.8 124L237 117.9L237.2 123.3L237.4 124.6L237.6 117.6L237.8 108.9L238 118L238.2 109.5L238.4 119.9L238.6 109.6L238.8 105.2L239 103.4L239.2 120.8L239.4 122.6L239.6 118.6L239.8 124.4L240 124L240.2 115.7L240.4 123.5L240.6 123.1L240.8 120.7L241 118.9L241.2 118.4L241.4 123.3L241.6 129.3L241.8 113L242 113.8L242.2 113.4L242.4 125.2L242.6 119.5L242.8 112.9L243 109.2L243.2 129.3L243.4 125.5L243.6 124.8L243.8 114.5L244 120.2L244.2 129.3L244.4 119.3L244.6 129.3L244.8 126L245 118.4L245.2 122.7L245.4 123.6L245.6 120.1L245.8 129.3L246 123.8L246.2 113.1L246.4 123.9L246.6 129.3L246.8 129.3L247 129.3L247.2 129.3L247.4 126L247.6 123.4L247.8 129.3L248 129.3L248.2 129.3L248.4 129.3L248.6 122.9L248.8 129.3L249 123.9L249.2 129.3L249.4 129.3L249.6 129.3L249.8 115.5L250 129.3L250.2 122.6L250.4 122.9L250.6 129.3L250.8 129.3L251 129.3L251.2 129.3L251.4 125.1L251.6 122.6L251.8 129.3L252 129.3L252.2 129.3L252.4 124.5L252.6 129.3L252.8 123.5L253 124.2L253.2 129.3L253.4 123.6L253.6 129.3L253.8 129.3L254 129.3L254.2 129.3L254.4 129.3L254.6 129.3L254.8 129.3L255 125.2L255.2 129.3L255.4 120.3L255.6 129.3L255.8 129.3L256 129.3L256.2 129.3L256.4 129.3L256.6 129.3L256.8 123.6L257 129.3L257.2 129.3L257.4 129.3L257.6 129.3L257.8 129.3L258 129.3L258.2 129.3L258.4 129.3L258.6 129.3L258.8 129.3L259 117.6L259.2 125.9L259.4 129.3L259.6 129.3L259.8 129.3L260 129.3L260.2 122.6L260.4 123.8L260.6 129.3L260.8 129.3L261 129.3L261.2 129.3L261.4 129.3L261.6 124.4L261.8 129.3L262 129.3L262.2 122.6L262.4 129.3L262.6 129.3L262.8 129.3L263 125.6L263.2 129.3L263.4 129.3L263.6 129.3L263.8 126L264 129.3L264.2 123.7L264.4 129.3L264.6 129.3L264.8 126L265 129.3L265.2 118.7L265.4 129.3L265.6 129.3L265.8 129.3L266 129.3L266.2 129.3L266.4 123.4L266.6 129.3L266.8 123.2L267 129.3L267.2 129.3L267.4 123.5L267.6 125.3L267.8 129.3L268 129.3L268.2 129.3L268.4 129.3L268.6 129.3L268.8 129.3L269 125.2L269.2 129.3L269.4 124.1L269.6 129.3L269.8 122.8L270 129.3L270.2 129.3L270.4 129.3L270.6 125.3L270.8 129.3L271 129.3L271.2 129.3L271.4 129.3L271.6 129.3L271.8 129.3L272 123.9L272.2 129.3L272.4 129.3L272.6 129.3L272.8 129.3L273 129.3L273.2 123.3L273.4 129.3L273.6 124.7L273.8 129.3L274 129.3L274.2 124.2L274.4 129.3L274.6 129.3L274.8 129.3L275 129.3L275.2 129.3L275.4 129.3L275.6 129.3L275.8 129.3L276 129.3L276.2 129.3L276.4 124L276.6 129.3L276.8 129.3L277 129.3L277.2 129.3L277.4 129.3L277.6 129.3L277.8 129.3L278 129.3L278.2 129.3L278.4 129.3L278.6 129.3L278.8 123L279 129.3L279.2 129.3L279.4 129.3L279.6 129.3L279.8 126L280 123.5L280.2 129.3L280.4 129.3L280.6 129.3L280.8 129.3L281 129.3L281.2 129.3L281.4 129.3L281.6 129.3L281.8 129.3L282 129.3L282.2 129.3L282.4 125.6L282.6 129.3L282.8 129.3L283 125L283.2 129.3L283.4 129.3L283.6 129.3L283.8 129.3L284 129.3L284.2 129.3L284.4 129.3L284.6 129.3L284.8 129.3L285 129.3L285.2 129.3L285.4 129.3L285.6 129.3L285.8 129.3L286 129.3L286.2 129.3L286.4 129.3L286.6 129.3L286.8 129.3L287 129.3L287.2 129.3L287.4 123.4L287.6 129.3L287.8 129.3L288 129.3L288.2 129.3L288.4 129.3L288.6 125.4L288.8 129.3L289 129.3L289.2 129.3L289.4 129.3L289.6 123.1L289.8 129.3L290 124.9L290.2 123.2L290.4 129.3L290.6 129.3L290.8 129.3L291 129.3L291.2 129.3L291.4 129.3L291.6 129.3L291.8 129.3L292 129.3L292.2 129.3L292.4 129.3L292.6 129.3L292.8 129.3L293 129.3L293.2 129.3L293.4 125.7L293.6 129.3L293.8 129.3L294 129.3L294.2 129.3L294.4 129.3L294.6 129.3L294.8 129.3L295 129.3L295.2 129.3L295.4 129.3L295.6 129.3L295.8 129.3L296 129.3L296.2 129.3L296.4 129.3L296.6 129.3L296.8 129.3L297 122.6L297.2 129.3L297.4 129.3L297.6 129.3L297.8 129.3L298 129.3L298.2 129.3L298.4 129.3L298.6 129.3L298.8 129.3L299 129.3L299.2 129.3L299.4 129.3L299.6 129.3L299.8 129.3L300 129.3" stroke="#808080" stroke-width="1.05" fill="none" stroke-linejoin="bevel"/>
<path d="M212.8 119L213 122.8L213.2 129.3L213.4 125.3L213.6 129.3L213.8 129.3L214 123.3L214.2 129.3L214.4 129.3L214.6 129.3L214.8 120.2L215 124.6L215.2 129.3L215.4 129.3L215.6 129.3L215.8 118.8L216 129.3L216.2 129.3L216.4 119.4L216.6 125.5L216.8 123.1L217 120.5L217.2 123L217.4 119.4L217.6 113.8L217.8 119L218 107.6L218.2 129.3L218.4 125.7L218.6 125.1L218.8 129.3L219 113.4L219.2 119.2L219.4 129.3L219.6 119.5L219.8 113.3L220 112.9L220.2 129.3L220.4 109.2L220.6 129.3L220.8 123.8L221 104.2L221.2 125.6L221.4 109.6L221.6 124.6L221.8 129.3L222 113.7L222.2 120.8L222.4 118.4L222.6 126L222.8 115.5L223 129.3L223.2 124.6L223.4 100.8L223.6 114.2L223.8 115.1L224 118.7L224.2 123L224.4 119.2L224.6 129.3L224.8 104.1L225 113.3L225.2 105.9L225.4 123.6L225.6 110.6L225.8 125.9L226 106L226.2 110.2L226.4 123L226.6 125.6L226.8 119.3L227 102.9L227.2 108L227.4 105.9L227.6 115.2L227.8 112.9L228 103.9L228.2 110.3L228.4 120.5L228.6 93.4L228.8 109.9L229 93.5L229.2 115.3L229.4 125L229.6 120L229.8 104.7L230 112.7L230.2 103.7L230.4 92.9L230.6 113.2L230.8 109.7L231 105.2L231.2 118.5L231.4 94.2L231.6 93L231.8 103.1L232 87.6L232.2 115.6L232.4 89.3L232.6 113.2L232.8 102.9L233 120.3L233.2 90.1L233.4 90.6L233.6 93L233.8 100.2L234 103.7L234.2 93.3L234.4 87.7L234.6 94.5L234.8 80.1L235 110.3L235.2 99.7L235.4 73.4L235.6 119.2L235.8 100.1L236 86L236.2 92.9L236.4 108L236.6 63.9L236.8 98.2L237 101L237.2 105.1L237.4 85.3L237.6 79.5L237.8 105.2L238 105.2L238.2 119.3L238.4 109L238.6 87.8L238.8 95.4L239 79.3L239.2 90.2L239.4 94.4L239.6 116L239.8 100.4L240 111L240.2 79.5L240.4 82.7L240.6 103.9L240.8 103.9L241 97.7L241.2 82.8L241.4 129.3L241.6 95.8L241.8 105L242 80L242.2 92.9L242.4 94.9L242.6 88.6L242.8 90.3L243 83.4L243.2 110.4L243.4 120.2L243.6 88L243.8 98.5L244 110.3L244.2 99.7L244.4 103.9L244.6 98L244.8 107.6L245 107.8L245.2 93.2L245.4 125.9L245.6 113.8L245.8 115.9L246 107.8L246.2 94.1L246.4 84.2L246.6 102.7L246.8 119.7L247 114.4L247.2 109.7L247.4 108.5L247.6 120.2L247.8 109.1L248 125.2L248.2 99.5L248.4 114.1L248.6 110.9L248.8 119.7L249 114.2L249.2 119.3L249.4 109.2L249.6 118.9L249.8 117.9L250 112.7L250.2 115.3L250.4 129.3L250.6 122.6L250.8 119.5L251 114L251.2 125.7L251.4 129.3L251.6 129.3L251.8 114.6L252 104.4L252.2 122.6L252.4 118.2L252.6 124.5L252.8 113.9L253 119.4L253.2 120.6L253.4 113.3L253.6 120.1L253.8 119.4L254 99.9L254.2 125.6L254.4 125.4L254.6 125.2L254.8 119.2L255 113.4L255.2 125.8L255.4 105.4L255.6 122.7L255.8 115L256 114.8L256.2 115.8L256.4 124L256.6 113.5L256.8 110L257 123.4L257.2 113.9L257.4 122.9L257.6 110.4L257.8 118.2L258 113.4L258.2 115.4L258.4 129.3L258.6 120.3L258.8 129.3L259 120.6L259.2 115.7L259.4 120.1L259.6 114.4L259.8 118.1L260 120.4L260.2 120.1L260.4 114.6L260.6 107.8L260.8 115.6L261 113.5L261.2 115.5L261.4 112.9L261.6 104.7L261.8 119.7L262 118.7L262.2 110.4L262.4 124L262.6 115.4L262.8 129.3L263 115.8L263.2 120.4L263.4 113.9L263.6 119.2L263.8 124.3L264 118.3L264.2 104.8L264.4 120.9L264.6 114.1L264.8 113.7L265 117.8L265.2 109.5L265.4 109.7L265.6 118.5L265.8 120.5L266 123.7L266.2 109.8L266.4 113.4L266.6 125.5L266.8 112.9L267 115L267.2 120.6L267.4 94.2L267.6 120.1L267.8 109.2L268 93.1L268.2 113L268.4 129.3L268.6 109.3L268.8 98.8L269 115.4L269.2 109.6L269.4 125L269.6 114.1L269.8 129.3L270 113.6L270.2 103.9L270.4 95.5L270.6 115L270.8 124.1L271 103.8L271.2 115.9L271.4 118.9L271.6 124.6L271.8 126L272 114.7L272.2 104.3L272.4 116L272.6 122.8L272.8 123L273 110.3L273.2 110.4L273.4 118.6L273.6 129.3L273.8 129.3L274 118.2L274.2 129.3L274.4 118L274.6 118.4L274.8 112.7L275 129.3L275.2 123.2L275.4 120.5L275.6 105.2L275.8 103.9L276 118.6L276.2 114.3L276.4 109.9L276.6 113.7L276.8 119.8L277 119.1L277.2 120L277.4 119.1L277.6 113.8L277.8 114.9L278 124.8L278.2 120.3L278.4 120.4L278.6 108.6L278.8 119.1L279 120.5L279.2 110.5L279.4 129.3L279.6 108L279.8 124.6L280 120.1L280.2 129.3L280.4 124.3L280.6 109L280.8 120.7L281 120.7L281.2 129.3L281.4 118.4L281.6 126L281.8 123.4L282 118.2L282.2 120.9L282.4 120.4L282.6 114.3L282.8 129.3L283 125.1L283.2 129.3L283.4 110L283.6 129.3L283.8 129.3L284 119.6L284.2 123.3L284.4 108L284.6 115L284.8 118.9L285 129.3L285.2 120.4L285.4 110.1L285.6 124.3L285.8 123.7L286 123L286.2 129.3L286.4 115.6L286.6 124.7L286.8 117.9L287 118.3L287.2 120.6L287.4 125.9L287.6 123L287.8 129.3L288 129.3L288.2 121L288.4 119.4L288.6 118.5L288.8 113.8L289 113.2L289.2 115.3L289.4 109.9L289.6 124.1L289.8 124.4L290 118.2L290.2 122.9L290.4 120.8L290.6 123.4L290.8 129.3L291 120.7L291.2 129.3L291.4 105.1L291.6 112.8L291.8 125.4L292 123L292.2 124.6L292.4 129.3L292.6 115.7L292.8 123.3L293 125.3L293.2 124.7L293.4 125.9L293.6 115.2L293.8 123L294 125.1L294.2 129.3L294.4 119.9L294.6 125.7L294.8 119.3L295 126L295.2 125.1L295.4 126L295.6 125.5L295.8 123.5L296 120.2L296.2 129.3L296.4 115.4L296.6 125L296.8 129.3L297 129.3L297.2 124.3L297.4 123.4L297.6 117.9L297.8 122.7L298 129.3L298.2 119.7L298.4 129.3L298.6 124.8L298.8 118.3L299 119.3L299.2 118.8L299.4 129.3L299.6 129.3L299.8 124.7L300 125.3L300.2 123.8L300.4 118.9L300.6 123.5L300.8 125.7L301 125.9L301.2 123.3L301.4 129.3L301.6 129.3L301.8 129.3L302 129.3L302.2 129.3L302.4 125.7L302.6 129.3L302.8 125L303 129.3L303.2 129.3L303.4 129.3L303.6 129.3L303.8 129.3L304 125L304.2 129.3L304.4 123.7L304.6 129.3L304.8 129.3L305 129.3L305.2 129.3L305.4 129.3L305.6 125L305.8 129.3L306 129.3L306.2 129.3L306.4 129.3L306.6 129.3L306.8 129.3L307 129.3L307.2 124.2L307.4 124.9L307.6 129.3L307.8 129.3L308 129.3L308.2 129.3L308.4 129.3L308.6 129.3L308.8 129.3L309 129.3L309.2 129.3L309.4 129.3" stroke="#000" stroke-width="1.12" fill="none" stroke-linejoin="bevel"/>
<path d="M211.6 37.9H346.7" stroke="#5a5a5a" stroke-width="1.0" fill="none"/>
<path d="M346.2 37.9V130" stroke="#777" stroke-width="1.2" fill="none"/>
<path d="M211.6 37.4V130.8" stroke="#111" stroke-width="1.6" fill="none"/>
<path d="M210.8 130H346.8" stroke="#000" stroke-width="1.6" fill="none"/>
<path d="M209 118.5h2.2M209 107h2.2M209 95.5h2.2M209 84h2.2M209 72.4h2.2M209 60.9h2.2M209 49.4h2.2" stroke="#a8a8a8" stroke-width="0.9"/>
<path d="M211.6 131.2v2M221.7 131.2v1.3M227.7 131.2v1.3M231.9 131.2v1.3M235.1 131.2v1.3M237.8 131.2v1.3M240 131.2v1.3M242 131.2v1.3M243.7 131.2v1.3M245.2 131.2v2M255.4 131.2v1.3M261.3 131.2v1.3M265.5 131.2v1.3M268.8 131.2v1.3M271.4 131.2v1.3M273.7 131.2v1.3M275.6 131.2v1.3M277.4 131.2v1.3M278.9 131.2v2M289 131.2v1.3M295 131.2v1.3M299.2 131.2v1.3M302.4 131.2v1.3M305.1 131.2v1.3M307.3 131.2v1.3M309.3 131.2v1.3M311 131.2v1.3M312.5 131.2v2M322.7 131.2v1.3M328.6 131.2v1.3M332.8 131.2v1.3M336.1 131.2v1.3M338.7 131.2v1.3M341 131.2v1.3M342.9 131.2v1.3M344.7 131.2v1.3" stroke="#b8b8b8" stroke-width="0.7"/>
<path d="M255.1 62.1H346.2M255.1 56.5v11.2M346.2 56.5v11.2" stroke="#000" stroke-width="1.35" fill="none"/>
<text transform="translate(254.4 53.3) scale(0.991 1)" font-size="15.4" font-weight="bold" fill="#000" stroke="#000" stroke-width="0.25">34.1%</text>
<text transform="translate(306.8 53.3) scale(0.986 1)" font-size="15.4" font-weight="bold" fill="#808080" stroke="#808080" stroke-width="0.25">5.9%</text>
<path d="M384.1 129.1L384.3 129.1L384.5 129.1L384.7 129.1L384.9 129.1L385.1 129.1L385.3 129.1L385.5 129.1L385.7 129.1L385.9 129.1L386.1 129.1L386.3 129.1L386.5 129.1L386.7 129.1L386.9 129.1L387.1 129.1L387.3 129.1L387.5 129.1L387.7 129.1L387.9 129.1L388.1 129.1L388.3 129.1L388.5 129.1L388.7 129.1L388.9 129.1L389.1 129.1L389.3 129.1L389.5 129.1L389.7 129.1L389.9 129.1L390.1 129.1L390.3 129.1L390.5 129.1L390.7 129.1L390.9 129.1L391.1 129.1L391.3 129.1L391.5 129.1L391.7 129.1L391.9 129.1L392.1 122.7L392.3 129.1L392.5 129.1L392.7 129.1L392.9 129.1L393.1 122.5L393.3 129.1L393.5 129.1L393.7 129.1L393.9 125.8L394.1 129.1L394.3 129.1L394.5 113.2L394.7 129.1L394.9 129.1L395.1 129.1L395.3 129.1L395.5 129.1L395.7 124.1L395.9 129.1L396.1 129.1L396.3 129.1L396.5 120.8L396.7 123.8L396.9 129.1L397.1 124.1L397.3 129.1L397.5 129.1L397.7 119.8L397.9 129.1L398.1 119.4L398.3 117.8L398.5 122.8L398.7 120.1L398.9 119.9L399.1 118.7L399.3 118.8L399.5 123.4L399.7 129.1L399.9 129.1L400.1 129.1L400.3 129.1L400.5 129.1L400.7 125.2L400.9 129.1L401.1 124.9L401.3 117.4L401.5 129.1L401.7 125.3L401.9 123.3L402.1 120L402.3 125.7L402.5 120.6L402.7 129.1L402.9 117.8L403.1 118.7L403.3 119.4L403.5 120.7L403.7 129.1L403.9 107.5L404.1 123.2L404.3 113.3L404.5 129.1L404.7 129.1L404.9 123.5L405.1 124.5L405.3 105.1L405.5 129.1L405.7 112.9L405.9 114.6L406.1 113.9L406.3 113L406.5 129.1L406.7 129.1L406.9 122.8L407.1 115L407.3 107.9L407.5 123.1L407.7 123.4L407.9 107.9L408.1 124L408.3 125.6L408.5 123.6L408.7 129.1L408.9 125.2L409.1 103.9L409.3 123.7L409.5 97.8L409.7 113.7L409.9 122.7L410.1 114.9L410.3 117.7L410.5 129.1L410.7 125.2L410.9 115L411.1 104.5L411.3 115.7L411.5 119.6L411.7 129.1L411.9 125.3L412.1 125.6L412.3 129.1L412.5 122.6L412.7 124.4L412.9 125.1L413.1 123.4L413.3 113.7L413.5 117.9L413.7 119.1L413.9 125L414.1 119.8L414.3 123.1L414.5 112.7L414.7 120.6L414.9 119.7L415.1 122.5L415.3 129.1L415.5 129.1L415.7 124.9L415.9 118.8L416.1 124.8L416.3 125.5L416.5 123.9L416.7 119.1L416.9 110.3L417.1 118.8L417.3 117.9L417.5 110.8L417.7 117.5L417.9 117.6L418.1 114L418.3 129.1L418.5 118.5L418.7 123.9L418.9 123.5L419.1 129.1L419.3 122.4L419.5 119.3L419.7 117.9L419.9 117.6L420.1 125.6L420.3 124L420.5 117.6L420.7 122.4L420.9 115.2L421.1 119L421.3 112.7L421.5 120.7L421.7 123.9L421.9 124.8L422.1 110.3L422.3 113L422.5 129.1L422.7 119.8L422.9 120L423.1 118L423.3 129.1L423.5 124.1L423.7 114.2L423.9 125L424.1 119.1L424.3 109.6L424.5 124.4L424.7 129.1L424.9 129.1L425.1 124.2L425.3 120.2L425.5 120.3L425.7 124.6L425.9 118.5L426.1 122.4L426.3 123.4L426.5 125.8L426.7 125L426.9 104.7L427.1 108.5L427.3 119.8L427.5 129.1L427.7 119.5L427.9 129.1L428.1 107.4L428.3 125.4L428.5 118.9L428.7 120.5L428.9 122.4L429.1 124.3L429.3 124.7L429.5 123.6L429.7 114.7L429.9 114.3L430.1 129.1L430.3 119.3L430.5 113.1L430.7 129.1L430.9 125.5L431.1 118.7L431.3 124L431.5 117.7L431.7 114.2L431.9 114.6L432.1 129.1L432.3 109.5L432.5 123L432.7 118.3L432.9 123.7L433.1 129.1L433.3 129.1L433.5 129.1L433.7 125.3L433.9 129.1L434.1 120.1L434.3 108.3L434.5 113L434.7 129.1L434.9 118.2L435.1 117.7L435.3 129.1L435.5 122.7L435.7 120.2L435.9 124.4L436.1 117.5L436.3 123L436.5 114.3L436.7 112.6L436.9 122.7L437.1 129.1L437.3 125.6L437.5 117.4L437.7 119.6L437.9 107.8L438.1 108.6L438.3 125L438.5 129.1L438.7 124.6L438.9 119.8L439.1 129.1L439.3 124.2L439.5 119.9L439.7 118.2L439.9 125.5L440.1 129.1L440.3 129.1L440.5 120.7L440.7 129.1L440.9 114.3L441.1 123.3L441.3 118L441.5 129.1L441.7 129.1L441.9 129.1L442.1 118.3L442.3 123.3L442.5 129.1L442.7 129.1L442.9 129.1L443.1 123.6L443.3 129.1L443.5 129.1L443.7 129.1L443.9 129.1L444.1 129.1L444.3 119.1L444.5 129.1L444.7 129.1L444.9 124.5L445.1 123.9L445.3 129.1L445.5 129.1L445.7 117.7L445.9 129.1L446.1 129.1L446.3 129.1L446.5 129.1L446.7 129.1L446.9 129.1L447.1 129.1L447.3 129.1L447.5 129.1L447.7 129.1L447.9 129.1L448.1 129.1L448.3 129.1L448.5 129.1L448.7 129.1L448.9 129.1L449.1 129.1L449.3 129.1L449.5 129.1L449.7 129.1L449.9 129.1L450.1 129.1L450.3 129.1L450.5 129.1L450.7 129.1L450.9 129.1L451.1 129.1L451.3 129.1L451.5 129.1L451.7 123.6L451.9 129.1L452.1 125.1L452.3 125.4L452.5 129.1L452.7 129.1L452.9 129.1L453.1 129.1L453.3 129.1L453.5 122.7L453.7 129.1L453.9 129.1L454.1 129.1L454.3 129.1L454.5 129.1L454.7 129.1L454.9 129.1L455.1 125.2L455.3 129.1L455.5 129.1L455.7 129.1L455.9 129.1L456.1 129.1L456.3 129.1L456.5 129.1L456.7 129.1L456.9 129.1L457.1 129.1L457.3 129.1L457.5 129.1L457.7 129.1L457.9 129.1" stroke="#808080" stroke-width="1.05" fill="none" stroke-linejoin="bevel"/>
<path d="M384.1 124.2L384.3 125.4L384.5 129.1L384.7 129.1L384.9 118.5L385.1 122.9L385.3 123.9L385.5 125L385.7 129.1L385.9 124.5L386.1 122.5L386.3 124.9L386.5 117.5L386.7 124.1L386.9 129.1L387.1 120.6L387.3 129.1L387.5 125.2L387.7 129.1L387.9 118.6L388.1 113.8L388.3 108.9L388.5 129.1L388.7 109.9L388.9 122.4L389.1 119.5L389.3 125.2L389.5 129.1L389.7 113.7L389.9 118.8L390.1 129.1L390.3 119.8L390.5 105.5L390.7 113.4L390.9 115.6L391.1 103.3L391.3 124.3L391.5 118.8L391.7 115L391.9 110.1L392.1 123.2L392.3 114.6L392.5 117.5L392.7 119.8L392.9 108.2L393.1 113.4L393.3 120.1L393.5 109.9L393.7 122.5L393.9 124L394.1 97.8L394.3 129.1L394.5 125.5L394.7 119.6L394.9 104.4L395.1 108.1L395.3 112.6L395.5 115.1L395.7 120.3L395.9 117.6L396.1 115.8L396.3 119.1L396.5 113.6L396.7 115.5L396.9 124L397.1 107.5L397.3 124.3L397.5 117.9L397.7 119.7L397.9 112.6L398.1 102.8L398.3 112.8L398.5 123.4L398.7 120.8L398.9 119.4L399.1 87.5L399.3 93.2L399.5 117.8L399.7 115.4L399.9 110.6L400.1 114.4L400.3 95.7L400.5 100.4L400.7 110.8L400.9 112.8L401.1 109.3L401.3 90.1L401.5 100.3L401.7 109.6L401.9 90.1L402.1 85.4L402.3 119.8L402.5 82.9L402.7 119.5L402.9 120L403.1 98.8L403.3 112.5L403.5 107.4L403.7 109.1L403.9 122.7L404.1 99.7L404.3 105.2L404.5 108.5L404.7 115.1L404.9 85.2L405.1 118L405.3 85.8L405.5 88.3L405.7 103.2L405.9 84.7L406.1 88L406.3 95.5L406.5 109L406.7 103.1L406.9 110L407.1 100L407.3 104.5L407.5 84.2L407.7 103.3L407.9 80.4L408.1 88.3L408.3 102.4L408.5 70.6L408.7 100.7L408.9 87.5L409.1 59.7L409.3 93.6L409.5 68.4L409.7 80.8L409.9 75.4L410.1 110.4L410.3 109L410.5 99.7L410.7 103.5L410.9 79.5L411.1 87.8L411.3 99.4L411.5 83.7L411.7 89.1L411.9 83.4L412.1 69.8L412.3 107.5L412.5 105.2L412.7 100.2L412.9 85.2L413.1 93.5L413.3 110.8L413.5 92.8L413.7 98.6L413.9 93.5L414.1 108.8L414.3 102.4L414.5 94.2L414.7 99L414.9 89.7L415.1 105L415.3 112.6L415.5 98.1L415.7 99.6L415.9 120L416.1 104.7L416.3 109.8L416.5 92.8L416.7 98.6L416.9 119.7L417.1 109.7L417.3 114.8L417.5 89.4L417.7 95.5L417.9 89.9L418.1 95.3L418.3 93.9L418.5 104.1L418.7 95.6L418.9 100.4L419.1 85.1L419.3 93.8L419.5 95.1L419.7 115.6L419.9 114.6L420.1 115L420.3 99.1L420.5 118.7L420.7 104.8L420.9 105.8L421.1 99.6L421.3 87.4L421.5 120.2L421.7 84L421.9 114.9L422.1 110.6L422.3 85.4L422.5 107.8L422.7 94.1L422.9 104L423.1 110.1L423.3 93.4L423.5 105.7L423.7 99.9L423.9 99.8L424.1 120.3L424.3 83.3L424.5 110.2L424.7 90.2L424.9 102.6L425.1 98.8L425.3 112.6L425.5 90.6L425.7 104.1L425.9 99.1L426.1 78.4L426.3 115L426.5 102.7L426.7 114.1L426.9 98.5L427.1 95.2L427.3 102.9L427.5 115.8L427.7 108.3L427.9 84.4L428.1 104.7L428.3 83.3L428.5 119.4L428.7 98.3L428.9 68.2L429.1 109.4L429.3 102.7L429.5 98.2L429.7 92.5L429.9 74.5L430.1 93.9L430.3 79.5L430.5 99.9L430.7 107.8L430.9 99.8L431.1 97.8L431.3 114.2L431.5 85.2L431.7 107.8L431.9 67.6L432.1 95.7L432.3 95.2L432.5 79.9L432.7 94.2L432.9 94.6L433.1 90.1L433.3 98.6L433.5 87.8L433.7 98.2L433.9 108.2L434.1 88.2L434.3 105L434.5 77.4L434.7 79.5L434.9 92.4L435.1 103L435.3 125.1L435.5 125.4L435.7 89.5L435.9 99.2L436.1 122.7L436.3 100.8L436.5 88.9L436.7 107.4L436.9 114.3L437.1 104.4L437.3 105.2L437.5 125.7L437.7 103.6L437.9 120.7L438.1 80.1L438.3 87.7L438.5 105.3L438.7 110L438.9 102.7L439.1 120.2L439.3 99.5L439.5 100.1L439.7 113L439.9 110.5L440.1 123.9L440.3 109.2L440.5 112.7L440.7 112.5L440.9 98.9L441.1 110.2L441.3 94.8L441.5 119.1L441.7 115.1L441.9 108L442.1 97.9L442.3 99.7L442.5 112.8L442.7 120L442.9 120.5L443.1 114.9L443.3 108L443.5 124.4L443.7 129.1L443.9 97.4L444.1 105.5L444.3 105.5L444.5 103.9L444.7 113.5L444.9 104.6L445.1 123L445.3 115.4L445.5 114L445.7 103.9L445.9 125.8L446.1 113.6L446.3 107.4L446.5 113.3L446.7 109.9L446.9 108.9L447.1 105.7L447.3 118.8L447.5 118.4L447.7 114.2L447.9 123.9L448.1 105.6L448.3 124.8L448.5 108.1L448.7 103.8L448.9 123.4L449.1 105.2L449.3 125.4L449.5 119.1L449.7 92.5L449.9 110.4L450.1 129.1L450.3 114.2L450.5 113.8L450.7 123.9L450.9 123L451.1 110.1L451.3 114.6L451.5 112.6L451.7 124.9L451.9 123.1L452.1 114L452.3 117.8L452.5 114.3L452.7 118.3L452.9 118.1L453.1 124.9L453.3 123.4L453.5 123.4L453.7 125.1L453.9 129.1L454.1 123.9L454.3 110.5L454.5 114L454.7 118L454.9 125.7L455.1 117.5L455.3 103.3L455.5 129.1L455.7 118.4L455.9 122.7L456.1 108.9L456.3 103.8L456.5 129.1L456.7 129.1L456.9 120.1L457.1 125.2L457.3 125.4L457.5 123.4L457.7 129.1L457.9 124.5L458.1 122.5L458.3 120L458.5 123.2L458.7 117.8L458.9 129.1L459.1 125.7L459.3 129.1L459.5 129.1L459.7 122.9L459.9 125.6L460.1 125.3L460.3 129.1L460.5 119.8L460.7 125.2L460.9 129.1L461.1 117.6L461.3 129.1L461.5 129.1L461.7 129.1L461.9 129.1L462.1 129.1L462.3 118.8L462.5 129.1L462.7 129.1L462.9 129.1L463.1 119.3L463.3 129.1L463.5 125.5L463.7 129.1L463.9 129.1L464.1 129.1L464.3 125.1L464.5 129.1L464.7 129.1L464.9 129.1L465.1 129.1L465.3 129.1L465.5 125.4L465.7 129.1L465.9 129.1L466.1 125.3L466.3 129.1L466.5 125.2L466.7 129.1L466.9 129.1L467.1 129.1L467.3 129.1L467.5 125.1L467.7 129.1L467.9 129.1L468.1 129.1L468.3 129.1L468.5 129.1L468.7 129.1L468.9 122.6L469.1 129.1L469.3 129.1L469.5 122.7L469.7 129.1L469.9 129.1L470.1 129.1L470.3 129.1L470.5 129.1L470.7 129.1L470.9 129.1L471.1 129.1L471.3 129.1L471.5 129.1L471.7 129.1L471.9 124.1L472.1 129.1L472.3 129.1L472.5 129.1L472.7 129.1L472.9 129.1L473.1 129.1L473.3 129.1L473.5 129.1L473.7 129.1L473.9 129.1L474.1 129.1L474.3 129.1L474.5 122.9L474.7 129.1L474.9 129.1L475.1 129.1L475.3 129.1L475.5 129.1L475.7 129.1L475.9 129.1L476.1 129.1L476.3 129.1L476.5 129.1L476.7 129.1L476.9 129.1L477.1 129.1L477.3 129.1L477.5 129.1L477.7 129.1L477.9 129.1L478.1 129.1L478.3 129.1L478.5 129.1L478.7 129.1L478.9 129.1L479.1 129.1L479.3 129.1L479.5 129.1L479.7 129.1L479.9 129.1L480.1 129.1L480.3 129.1L480.5 129.1L480.7 129.1L480.9 129.1" stroke="#000" stroke-width="1.12" fill="none" stroke-linejoin="bevel"/>
<path d="M382.9 38.2H517.5" stroke="#5a5a5a" stroke-width="1.0" fill="none"/>
<path d="M517 38.2V129.8" stroke="#888" stroke-width="1.2" fill="none"/>
<path d="M382.9 37.7V130.6" stroke="#3a3a3a" stroke-width="1.4" fill="none"/>
<path d="M382.1 129.8H517.6" stroke="#000" stroke-width="1.6" fill="none"/>
<path d="M380.3 118.4h2.2M380.3 106.9h2.2M380.3 95.5h2.2M380.3 84h2.2M380.3 72.6h2.2M380.3 61.1h2.2M380.3 49.7h2.2" stroke="#a8a8a8" stroke-width="0.9"/>
<path d="M382.9 131v2M393 131v1.3M398.9 131v1.3M403.1 131v1.3M406.3 131v1.3M409 131v1.3M411.2 131v1.3M413.2 131v1.3M414.9 131v1.3M416.4 131v2M426.5 131v1.3M432.4 131v1.3M436.6 131v1.3M439.9 131v1.3M442.5 131v1.3M444.8 131v1.3M446.7 131v1.3M448.4 131v1.3M449.9 131v2M460 131v1.3M465.9 131v1.3M470.1 131v1.3M473.4 131v1.3M476 131v1.3M478.3 131v1.3M480.2 131v1.3M481.9 131v1.3M483.5 131v2M493.6 131v1.3M499.5 131v1.3M503.7 131v1.3M506.9 131v1.3M509.6 131v1.3M511.8 131v1.3M513.8 131v1.3M515.5 131v1.3" stroke="#b8b8b8" stroke-width="0.7"/>
<path d="M426.3 60.1H517.3M426.3 55.1v10M517.3 55.1v10" stroke="#111" stroke-width="1.15" fill="none"/>
<text transform="translate(427.1 53.5) scale(1.001 1)" font-size="15.4" font-weight="bold" fill="#000" stroke="#000" stroke-width="0.25">47.5%</text>
<text transform="translate(479.5 53.5) scale(0.986 1)" font-size="15.4" font-weight="bold" fill="#808080" stroke="#808080" stroke-width="0.25">8.9%</text>
<path d="M213.7 295.5L213.9 295.5L214.1 295.5L214.3 295.5L214.5 295.5L214.7 295.5L214.9 295.5L215.1 295.5L215.3 295.5L215.5 295.5L215.7 295.5L215.9 295.5L216.1 295.5L216.3 295.5L216.5 295.5L216.7 295.5L216.9 295.5L217.1 295.5L217.3 295.5L217.5 295.5L217.7 295.5L217.9 295.5L218.1 295.5L218.3 295.5L218.5 295.5L218.7 295.5L218.9 295.5L219.1 295.5L219.3 295.5L219.5 289.1L219.7 295.5L219.9 295.5L220.1 295.5L220.3 295.5L220.5 295.5L220.7 295.5L220.9 295.5L221.1 295.5L221.3 295.5L221.5 295.5L221.7 295.5L221.9 295.5L222.1 291.3L222.3 295.5L222.5 295.5L222.7 295.5L222.9 295.5L223.1 295.5L223.3 295.5L223.5 295.5L223.7 295.5L223.9 295.5L224.1 295.5L224.3 295.5L224.5 295.5L224.7 295.5L224.9 295.5L225.1 295.5L225.3 295.5L225.5 295.5L225.7 295.5L225.9 295.5L226.1 295.5L226.3 289.8L226.5 295.5L226.7 290.2L226.9 295.5L227.1 295.5L227.3 295.5L227.5 295.5L227.7 295.5L227.9 295.5L228.1 295.5L228.3 295.5L228.5 284.8L228.7 295.5L228.9 279.3L229.1 289.1L229.3 290.3L229.5 295.5L229.7 295.5L229.9 280.3L230.1 295.5L230.3 295.5L230.5 285.7L230.7 295.5L230.9 295.5L231.1 295.5L231.3 285.8L231.5 295.5L231.7 295.5L231.9 286.3L232.1 287L232.3 295.5L232.5 295.5L232.7 281.3L232.9 287L233.1 289.7L233.3 295.5L233.5 279.7L233.7 295.5L233.9 295.5L234.1 291.7L234.3 281.5L234.5 295.5L234.7 281.2L234.9 286.5L235.1 286.3L235.3 291.9L235.5 286.4L235.7 283.9L235.9 287.1L236.1 290.4L236.3 295.5L236.5 280.6L236.7 295.5L236.9 287L237.1 291.6L237.3 290.2L237.5 290.1L237.7 295.5L237.9 295.5L238.1 291.5L238.3 295.5L238.5 292.1L238.7 289.9L238.9 285.9L239.1 295.5L239.3 290.2L239.5 295.5L239.7 295.5L239.9 290.8L240.1 291.7L240.3 287.1L240.5 291.4L240.7 291.2L240.9 280L241.1 284.4L241.3 295.5L241.5 284.9L241.7 291.9L241.9 281.4L242.1 292.1L242.3 289.7L242.5 290.8L242.7 295.5L242.9 274L243.1 286.8L243.3 290.4L243.5 295.5L243.7 295.5L243.9 289.9L244.1 285L244.3 290.3L244.5 285.4L244.7 290.7L244.9 295.5L245.1 295.5L245.3 295.5L245.5 295.5L245.7 295.5L245.9 289.4L246.1 290.9L246.3 290.1L246.5 295.5L246.7 285.4L246.9 291.2L247.1 289.6L247.3 290.3L247.5 290.2L247.7 295.5L247.9 288.8L248.1 292.1L248.3 295.5L248.5 295.5L248.7 290.4L248.9 295.5L249.1 295.5L249.3 295.5L249.5 286.6L249.7 290.1L249.9 295.5L250.1 295.5L250.3 295.5L250.5 295.5L250.7 295.5L250.9 290.1L251.1 291.2L251.3 295.5L251.5 291.7L251.7 289.1L251.9 295.5L252.1 295.5L252.3 289.7L252.5 295.5L252.7 287L252.9 295.5L253.1 295.5L253.3 295.5L253.5 295.5L253.7 295.5L253.9 295.5L254.1 295.5L254.3 289.7L254.5 295.5L254.7 295.5L254.9 289.7L255.1 286.2L255.3 290.4L255.5 295.5L255.7 295.5L255.9 295.5L256.1 295.5L256.3 295.5L256.5 287.2L256.7 290.5L256.9 295.5L257.1 295.5L257.3 289.3L257.5 290.1L257.7 295.5L257.9 295.5L258.1 295.5L258.3 284.8L258.5 287.2L258.7 285.7L258.9 295.5L259.1 289.5L259.3 295.5L259.5 295.5L259.7 291.9L259.9 295.5L260.1 289.5L260.3 290.7L260.5 289.2L260.7 295.5L260.9 289.3L261.1 291.1L261.3 295.5L261.5 295.5L261.7 295.5L261.9 295.5L262.1 295.5L262.3 295.5L262.5 295.5L262.7 291.4L262.9 295.5L263.1 295.5L263.3 295.5L263.5 285.8L263.7 290.3L263.9 289.3L264.1 295.5L264.3 295.5L264.5 291.1L264.7 287.1L264.9 289.9L265.1 290.4L265.3 291.4L265.5 295.5L265.7 295.5L265.9 295.5L266.1 295.5L266.3 289.6L266.5 291.7L266.7 295.5L266.9 295.5L267.1 295.5L267.3 291.2L267.5 295.5L267.7 295.5L267.9 281.3L268.1 295.5L268.3 289.9L268.5 295.5L268.7 295.5L268.9 288.8L269.1 295.5L269.3 289.4L269.5 295.5L269.7 295.5L269.9 295.5L270.1 290.6L270.3 285.3L270.5 291.3L270.7 289.3L270.9 295.5L271.1 295.5L271.3 289.5L271.5 295.5L271.7 286.8L271.9 295.5L272.1 295.5L272.3 295.5L272.5 295.5L272.7 295.5L272.9 295.5L273.1 295.5L273.3 290.5L273.5 295.5L273.7 295.5L273.9 295.5L274.1 290.1L274.3 292.1L274.5 295.5L274.7 295.5L274.9 295.5L275.1 295.5L275.3 284.8L275.5 295.5L275.7 291.6L275.9 289.4L276.1 290.6L276.3 290.4L276.5 295.5L276.7 295.5L276.9 295.5L277.1 295.5L277.3 295.5L277.5 295.5L277.7 295.5L277.9 295.5L278.1 295.5L278.3 295.5L278.5 295.5L278.7 295.5L278.9 295.5L279.1 295.5L279.3 295.5L279.5 295.5L279.7 289.9L279.9 295.5L280.1 295.5L280.3 295.5L280.5 295.5L280.7 295.5L280.9 295.5L281.1 295.5L281.3 295.5L281.5 291.7L281.7 295.5L281.9 295.5L282.1 295.5L282.3 295.5L282.5 291.2L282.7 290.8L282.9 295.5L283.1 290L283.3 295.5L283.5 295.5L283.7 295.5L283.9 295.5L284.1 295.5L284.3 295.5L284.5 295.5L284.7 295.5L284.9 292L285.1 295.5L285.3 295.5L285.5 295.5L285.7 295.5L285.9 295.5L286.1 295.5L286.3 291.3L286.5 295.5L286.7 295.5L286.9 289.4L287.1 295.5L287.3 295.5L287.5 295.5L287.7 295.5L287.9 295.5L288.1 295.5L288.3 295.5L288.5 295.5L288.7 295.5L288.9 295.5L289.1 295.5L289.3 295.5L289.5 295.5L289.7 295.5L289.9 289.4" stroke="#808080" stroke-width="1.05" fill="none" stroke-linejoin="bevel"/>
<path d="M213.7 295.5L213.9 295.5L214.1 295.5L214.3 291.1L214.5 275L214.7 295.5L214.9 290.3L215.1 295.5L215.3 295.5L215.5 279.5L215.7 291.7L215.9 279.7L216.1 295.5L216.3 285.4L216.5 280L216.7 290.1L216.9 289.8L217.1 284.7L217.3 284L217.5 290.1L217.7 290.3L217.9 285.5L218.1 271.7L218.3 284.4L218.5 284.8L218.7 286.1L218.9 295.5L219.1 295.5L219.3 286.2L219.5 273.9L219.7 295.5L219.9 272L220.1 283.9L220.3 269.3L220.5 279.8L220.7 284.5L220.9 284.7L221.1 274.3L221.3 271.9L221.5 274.4L221.7 278.9L221.9 292.1L222.1 269.3L222.3 276.6L222.5 286.6L222.7 275.7L222.9 259.5L223.1 255.2L223.3 264.1L223.5 281.6L223.7 273.9L223.9 275L224.1 275.8L224.3 283.8L224.5 281.1L224.7 270.9L224.9 275.4L225.1 284.7L225.3 266.5L225.5 280.6L225.7 277L225.9 271.3L226.1 261.4L226.3 286.8L226.5 280L226.7 264.7L226.9 286.4L227.1 285L227.3 255.2L227.5 271.2L227.7 253.8L227.9 270.8L228.1 276.7L228.3 265.2L228.5 276.4L228.7 264.7L228.9 260.1L229.1 260.2L229.3 285L229.5 261.8L229.7 264.6L229.9 238.8L230.1 265.3L230.3 270L230.5 270.6L230.7 262L230.9 285.3L231.1 263.8L231.3 270L231.5 250.6L231.7 271.9L231.9 270.3L232.1 268.8L232.3 261.2L232.5 239L232.7 249.5L232.9 265L233.1 274.2L233.3 230.1L233.5 276.6L233.7 265.9L233.9 262L234.1 264.8L234.3 261.1L234.5 245.4L234.7 256.6L234.9 256.8L235.1 254.6L235.3 250L235.5 241.1L235.7 244L235.9 251.6L236.1 269.1L236.3 264.6L236.5 261.2L236.7 240.4L236.9 270.7L237.1 247L237.3 255.9L237.5 261.7L237.7 249L237.9 256.4L238.1 244L238.3 264.8L238.5 254L238.7 244L238.9 266.6L239.1 287.1L239.3 268.8L239.5 229.7L239.7 276.2L239.9 252.1L240.1 261.6L240.3 246.1L240.5 284.4L240.7 280.9L240.9 259.1L241.1 256.9L241.3 265L241.5 264.3L241.7 275.5L241.9 256L242.1 239.3L242.3 255.6L242.5 261.3L242.7 256.8L242.9 267.1L243.1 280L243.3 257L243.5 260.8L243.7 249.4L243.9 274.1L244.1 267.2L244.3 271.7L244.5 286.5L244.7 276.4L244.9 276.4L245.1 265.3L245.3 265.4L245.5 284.4L245.7 259.2L245.9 256L246.1 269.4L246.3 273.8L246.5 275.1L246.7 270.8L246.9 269.2L247.1 272.1L247.3 259.5L247.5 280.2L247.7 264.9L247.9 276L248.1 285.5L248.3 260.8L248.5 274.8L248.7 284.7L248.9 287L249.1 263.9L249.3 276.4L249.5 284.1L249.7 280.7L249.9 289.5L250.1 287.2L250.3 289L250.5 276.4L250.7 285.1L250.9 277.2L251.1 271.1L251.3 281.2L251.5 295.5L251.7 289.5L251.9 274.7L252.1 285.5L252.3 290.6L252.5 295.5L252.7 280L252.9 284.9L253.1 295.5L253.3 295.5L253.5 286.3L253.7 295.5L253.9 285.3L254.1 291.5L254.3 286.3L254.5 289.2L254.7 289L254.9 295.5L255.1 280.3L255.3 289.2L255.5 284.4L255.7 279.6L255.9 295.5L256.1 291.1L256.3 281.1L256.5 280.2L256.7 279.1L256.9 291.6L257.1 282L257.3 281.2L257.5 295.5L257.7 285.2L257.9 286.3L258.1 295.5L258.3 295.5L258.5 281.5L258.7 282.2L258.9 284.6L259.1 295.5L259.3 280.9L259.5 286.8L259.7 286.6L259.9 285.3L260.1 291.2L260.3 284.9L260.5 289.5L260.7 285.4L260.9 286.9L261.1 281.4L261.3 284.6L261.5 275.6L261.7 286.2L261.9 279.7L262.1 280L262.3 278.9L262.5 276.4L262.7 287.1L262.9 295.5L263.1 287.1L263.3 295.5L263.5 284.4L263.7 295.5L263.9 285.3L264.1 291.4L264.3 290.8L264.5 264L264.7 281L264.9 280.3L265.1 281.8L265.3 281.6L265.5 289.3L265.7 254.7L265.9 279.5L266.1 290.4L266.3 277L266.5 274.2L266.7 281.2L266.9 271.6L267.1 269.8L267.3 258.8L267.5 272.2L267.7 273.9L267.9 289.4L268.1 279.1L268.3 284.4L268.5 284.3L268.7 275.2L268.9 271.7L269.1 261.5L269.3 274.2L269.5 265.9L269.7 283.8L269.9 270.5L270.1 285.1L270.3 289.2L270.5 286.6L270.7 291.2L270.9 290L271.1 291.3L271.3 279.5L271.5 275.3L271.7 277L271.9 289.1L272.1 295.5L272.3 280.4L272.5 280.6L272.7 280.6L272.9 277L273.1 286L273.3 277.1L273.5 276.2L273.7 281.7L273.9 289.4L274.1 291.9L274.3 271.9L274.5 291.7L274.7 279.2L274.9 279.7L275.1 284.3L275.3 275.1L275.5 288.9L275.7 289L275.9 291.4L276.1 290.8L276.3 280.3L276.5 272.1L276.7 275.6L276.9 290.7L277.1 291.1L277.3 279.7L277.5 281.5L277.7 275.7L277.9 286.2L278.1 291.4L278.3 295.5L278.5 291.5L278.7 285.3L278.9 295.5L279.1 295.5L279.3 279.3L279.5 289.5L279.7 287.1L279.9 281.5L280.1 279.4L280.3 276L280.5 285.5L280.7 282L280.9 289.4L281.1 283.9L281.3 289.6L281.5 291.9L281.7 279L281.9 285L282.1 288.8L282.3 295.5L282.5 286.1L282.7 295.5L282.9 295.5L283.1 291.9L283.3 285.1L283.5 290.2L283.7 286.4L283.9 289.2L284.1 286.1L284.3 290.9L284.5 292.1L284.7 279.2L284.9 284.4L285.1 295.5L285.3 290.9L285.5 287L285.7 295.5L285.9 285.8L286.1 281.6L286.3 295.5L286.5 280.6L286.7 286.8L286.9 290.4L287.1 291.3L287.3 286.9L287.5 295.5L287.7 295.5L287.9 289.8L288.1 281.7L288.3 289.8L288.5 290.3L288.7 289L288.9 295.5L289.1 279.2L289.3 273.9L289.5 284.2L289.7 292.1L289.9 295.5L290.1 289.4L290.3 287L290.5 289.7L290.7 289.9L290.9 280.9L291.1 290.2L291.3 295.5L291.5 285.6L291.7 295.5L291.9 295.5L292.1 295.5L292.3 285.4L292.5 290.4L292.7 295.5L292.9 295.5L293.1 290.7L293.3 292.2L293.5 295.5L293.7 291.2L293.9 290L294.1 290.8L294.3 276.9L294.5 295.5L294.7 295.5L294.9 292L295.1 295.5L295.3 290.5L295.5 295.5L295.7 286.6L295.9 295.5L296.1 295.5L296.3 289.2L296.5 292.2L296.7 295.5L296.9 295.5L297.1 291.1L297.3 278.8L297.5 290.3L297.7 295.5L297.9 286.9L298.1 295.5L298.3 295.5L298.5 295.5L298.7 295.5L298.9 290.5L299.1 291.9L299.3 291.6L299.5 291.9L299.7 295.5L299.9 295.5L300.1 295.5L300.3 295.5L300.5 295.5L300.7 295.5L300.9 295.5L301.1 295.5L301.3 295.5L301.5 295.5L301.7 295.5L301.9 295.5L302.1 295.5L302.3 295.5L302.5 292.1L302.7 291.8L302.9 295.5L303.1 291.9L303.3 289.5L303.5 289.3L303.7 290.1L303.9 295.5L304.1 289.9L304.3 295.5L304.5 295.5L304.7 295.5L304.9 295.5L305.1 295.5L305.3 295.5L305.5 295.5L305.7 295.5L305.9 295.5L306.1 292.2L306.3 291.7L306.5 295.5L306.7 295.5L306.9 295.5L307.1 295.5L307.3 295.5L307.5 295.5L307.7 295.5L307.9 295.5L308.1 295.5L308.3 295.5L308.5 295.5L308.7 295.5L308.9 295.5L309.1 295.5L309.3 295.5L309.5 295.5" stroke="#000" stroke-width="1.12" fill="none" stroke-linejoin="bevel"/>
<path d="M212.5 205H346.9" stroke="#5a5a5a" stroke-width="1.0" fill="none"/>
<path d="M346.4 205V296.2" stroke="#555" stroke-width="1.1" fill="none"/>
<path d="M212.5 204.5V297" stroke="#111" stroke-width="1.6" fill="none"/>
<path d="M211.7 296.2H347" stroke="#000" stroke-width="1.6" fill="none"/>
<path d="M209.9 284.8h2.2M209.9 273.4h2.2M209.9 262h2.2M209.9 250.6h2.2M209.9 239.2h2.2M209.9 227.8h2.2M209.9 216.4h2.2" stroke="#a8a8a8" stroke-width="0.9"/>
<path d="M212.5 297.4v2M222.6 297.4v1.3M228.5 297.4v1.3M232.7 297.4v1.3M235.9 297.4v1.3M238.5 297.4v1.3M240.8 297.4v1.3M242.7 297.4v1.3M244.4 297.4v1.3M246 297.4v2M256.1 297.4v1.3M261.9 297.4v1.3M266.1 297.4v1.3M269.4 297.4v1.3M272 297.4v1.3M274.3 297.4v1.3M276.2 297.4v1.3M277.9 297.4v1.3M279.4 297.4v2M289.5 297.4v1.3M295.4 297.4v1.3M299.6 297.4v1.3M302.8 297.4v1.3M305.5 297.4v1.3M307.7 297.4v1.3M309.7 297.4v1.3M311.4 297.4v1.3M312.9 297.4v2M323 297.4v1.3M328.9 297.4v1.3M333.1 297.4v1.3M336.3 297.4v1.3M339 297.4v1.3M341.2 297.4v1.3M343.2 297.4v1.3M344.9 297.4v1.3" stroke="#b8b8b8" stroke-width="0.7"/>
<path d="M255.4 227.8H346.4M255.4 222.8v10M346.4 222.8v10" stroke="#000" stroke-width="1.35" fill="none"/>
<text transform="translate(254.4 221.5) scale(0.977 1)" font-size="15.4" font-weight="bold" fill="#000" stroke="#000" stroke-width="0.25">39.5%</text>
<text transform="translate(302.4 221.5) scale(0.999 1)" font-size="15.4" font-weight="bold" fill="#808080" stroke="#808080" stroke-width="0.25">26.7%</text>
<path d="M384.7 295.5L384.9 295.5L385.1 295.5L385.3 295.5L385.5 295.5L385.7 295.5L385.9 295.5L386.1 295.5L386.3 295.5L386.5 295.5L386.7 295.5L386.9 295.5L387.1 295.5L387.3 295.5L387.5 295.5L387.7 295.5L387.9 295.5L388.1 295.5L388.3 295.5L388.5 295.5L388.7 295.5L388.9 295.5L389.1 295.5L389.3 295.5L389.5 295.5L389.7 295.5L389.9 295.5L390.1 295.5L390.3 295.5L390.5 295.5L390.7 295.5L390.9 295.5L391.1 295.5L391.3 295.5L391.5 295.5L391.7 295.5L391.9 295.5L392.1 295.5L392.3 295.5L392.5 295.5L392.7 295.5L392.9 295.5L393.1 295.5L393.3 295.5L393.5 295.5L393.7 295.5L393.9 295.5L394.1 295.5L394.3 295.5L394.5 295.5L394.7 290L394.9 295.5L395.1 295.5L395.3 295.5L395.5 289.3L395.7 295.5L395.9 291.1L396.1 295.5L396.3 290.2L396.5 295.5L396.7 295.5L396.9 295.5L397.1 295.5L397.3 290.1L397.5 295.5L397.7 295.5L397.9 295.5L398.1 295.5L398.3 295.5L398.5 291.9L398.7 290.2L398.9 289.4L399.1 295.5L399.3 286L399.5 291.6L399.7 295.5L399.9 295.5L400.1 291.3L400.3 295.5L400.5 295.5L400.7 279.7L400.9 287L401.1 289.6L401.3 288.9L401.5 295.5L401.7 284.6L401.9 287.2L402.1 289.9L402.3 290.7L402.5 295.5L402.7 286.9L402.9 290.8L403.1 289L403.3 285.8L403.5 286.8L403.7 284.3L403.9 285.7L404.1 286.1L404.3 276.9L404.5 271.5L404.7 291.2L404.9 295.5L405.1 290.4L405.3 279L405.5 281.6L405.7 284.1L405.9 291.4L406.1 295.5L406.3 286.3L406.5 295.5L406.7 290.3L406.9 288.9L407.1 285.3L407.3 264L407.5 285.7L407.7 281.4L407.9 295.5L408.1 292.1L408.3 281.8L408.5 295.5L408.7 285.8L408.9 284.1L409.1 291.1L409.3 290L409.5 286.6L409.7 295.5L409.9 280.7L410.1 291L410.3 285.2L410.5 270L410.7 269.1L410.9 280.3L411.1 291L411.3 289.7L411.5 275.8L411.7 289.5L411.9 289.8L412.1 290.3L412.3 289.9L412.5 292L412.7 279.3L412.9 264.3L413.1 284.2L413.3 291.2L413.5 281.4L413.7 292L413.9 287L414.1 280.4L414.3 275.5L414.5 275.9L414.7 270L414.9 281.1L415.1 286.2L415.3 280.4L415.5 266.1L415.7 295.5L415.9 295.5L416.1 286.9L416.3 281.1L416.5 291.1L416.7 295.5L416.9 286.4L417.1 280L417.3 291.6L417.5 290.6L417.7 295.5L417.9 284.3L418.1 291.3L418.3 286.8L418.5 286.6L418.7 290.6L418.9 289.9L419.1 284.1L419.3 292.1L419.5 281.1L419.7 285.9L419.9 291.2L420.1 285.6L420.3 283.9L420.5 284.3L420.7 280.1L420.9 291.7L421.1 285.2L421.3 295.5L421.5 295.5L421.7 279.5L421.9 295.5L422.1 281.1L422.3 292.1L422.5 295.5L422.7 292L422.9 295.5L423.1 295.5L423.3 295.5L423.5 292.2L423.7 292.2L423.9 295.5L424.1 287L424.3 279.3L424.5 291.6L424.7 295.5L424.9 295.5L425.1 286.7L425.3 295.5L425.5 284.7L425.7 288.8L425.9 295.5L426.1 295.5L426.3 295.5L426.5 291.9L426.7 286.5L426.9 285.6L427.1 288.8L427.3 291.9L427.5 291.7L427.7 290.3L427.9 288.9L428.1 295.5L428.3 295.5L428.5 295.5L428.7 290.9L428.9 295.5L429.1 295.5L429.3 295.5L429.5 295.5L429.7 288.8L429.9 295.5L430.1 295.5L430.3 295.5L430.5 289.8L430.7 291.2L430.9 292.2L431.1 295.5L431.3 295.5L431.5 295.5L431.7 295.5L431.9 295.5L432.1 291.6L432.3 295.5L432.5 291.6L432.7 295.5L432.9 295.5L433.1 295.5L433.3 291.8L433.5 295.5L433.7 295.5L433.9 295.5L434.1 289.1L434.3 291.7L434.5 291.8L434.7 295.5L434.9 295.5L435.1 295.5L435.3 295.5L435.5 295.5L435.7 295.5L435.9 290.4L436.1 290.6L436.3 295.5L436.5 295.5L436.7 295.5L436.9 295.5L437.1 289.2L437.3 295.5L437.5 290.6L437.7 295.5L437.9 292.1L438.1 289.2L438.3 295.5L438.5 291L438.7 295.5L438.9 295.5L439.1 295.5L439.3 295.5L439.5 289.7L439.7 295.5L439.9 291.8L440.1 291.3L440.3 295.5L440.5 295.5L440.7 292.1L440.9 295.5L441.1 295.5L441.3 289.5L441.5 295.5L441.7 295.5L441.9 295.5L442.1 295.5L442.3 295.5L442.5 295.5L442.7 291.7L442.9 295.5L443.1 295.5L443.3 295.5L443.5 295.5L443.7 295.5L443.9 290.1L444.1 295.5L444.3 289.3L444.5 295.5L444.7 295.5L444.9 295.5L445.1 291.4L445.3 295.5L445.5 295.5L445.7 295.5L445.9 290.4L446.1 292L446.3 295.5L446.5 289.9L446.7 295.5L446.9 295.5L447.1 295.5L447.3 295.5L447.5 295.5L447.7 295.5L447.9 295.5L448.1 287L448.3 295.5L448.5 290.9L448.7 295.5L448.9 295.5L449.1 295.5L449.3 295.5L449.5 295.5L449.7 295.5L449.9 295.5L450.1 295.5L450.3 295.5L450.5 295.5L450.7 290.9L450.9 295.5L451.1 295.5L451.3 295.5L451.5 295.5L451.7 295.5L451.9 295.5" stroke="#808080" stroke-width="1.05" fill="none" stroke-linejoin="bevel"/>
<path d="M384.7 290.8L384.9 292.1L385.1 295.5L385.3 295.5L385.5 295.5L385.7 295.5L385.9 290.9L386.1 286.5L386.3 295.5L386.5 288.8L386.7 295.5L386.9 286.1L387.1 285L387.3 292.1L387.5 295.5L387.7 295.5L387.9 295.5L388.1 279.1L388.3 295.5L388.5 281.8L388.7 289.5L388.9 295.5L389.1 275.4L389.3 291.4L389.5 290.9L389.7 286.3L389.9 270.6L390.1 276.3L390.3 289.6L390.5 276.1L390.7 289.7L390.9 290.1L391.1 290.4L391.3 278.8L391.5 286.4L391.7 275L391.9 295.5L392.1 290.2L392.3 271.2L392.5 280.4L392.7 291L392.9 264.2L393.1 280.3L393.3 295.5L393.5 286L393.7 271.2L393.9 290.7L394.1 279.2L394.3 280.7L394.5 276.4L394.7 283.9L394.9 277.1L395.1 295.5L395.3 291.7L395.5 295.5L395.7 285.1L395.9 265.8L396.1 295.5L396.3 281.1L396.5 279.2L396.7 291L396.9 274.3L397.1 280.8L397.3 269.3L397.5 289.1L397.7 276.8L397.9 284.9L398.1 286L398.3 284L398.5 291.4L398.7 266.9L398.9 264.7L399.1 265.8L399.3 281.2L399.5 286.6L399.7 282.2L399.9 281.6L400.1 254.8L400.3 290.3L400.5 271L400.7 279.5L400.9 270.1L401.1 273.9L401.3 264.2L401.5 260.6L401.7 256.4L401.9 286.8L402.1 260.1L402.3 259.5L402.5 280.4L402.7 270.4L402.9 271.1L403.1 281.7L403.3 272.2L403.5 261.7L403.7 265.3L403.9 271.4L404.1 276.4L404.3 265L404.5 275.6L404.7 269.2L404.9 273.8L405.1 266.9L405.3 265L405.5 259.1L405.7 260.6L405.9 265.7L406.1 241.7L406.3 265.1L406.5 244.2L406.7 269.2L406.9 250.4L407.1 275.6L407.3 264.9L407.5 271.7L407.7 251.1L407.9 249.1L408.1 256.5L408.3 244.7L408.5 245.5L408.7 266.5L408.9 250L409.1 250.6L409.3 255.9L409.5 264.4L409.7 235.2L409.9 249.7L410.1 245.4L410.3 251.3L410.5 231.9L410.7 261.4L410.9 256.2L411.1 243.8L411.3 241.6L411.5 266.5L411.7 260.9L411.9 222L412.1 259.5L412.3 266.4L412.5 232.2L412.7 244L412.9 235.5L413.1 254.1L413.3 236L413.5 256.5L413.7 242.1L413.9 226.5L414.1 264.3L414.3 266.1L414.5 235.5L414.7 234.2L414.9 265.3L415.1 260.9L415.3 266L415.5 261.8L415.7 265.9L415.9 265.9L416.1 230.7L416.3 264.9L416.5 274.7L416.7 274.2L416.9 250.9L417.1 244.7L417.3 269.5L417.5 277.1L417.7 262.2L417.9 257.1L418.1 254.2L418.3 261L418.5 268.9L418.7 259.7L418.9 271.4L419.1 250.5L419.3 249.4L419.5 254.2L419.7 261.9L419.9 241L420.1 259.2L420.3 273.9L420.5 264.5L420.7 279.7L420.9 259.8L421.1 266L421.3 259.5L421.5 275.4L421.7 244.1L421.9 286.8L422.1 287L422.3 260.2L422.5 275.3L422.7 285.7L422.9 285.9L423.1 280.9L423.3 271.8L423.5 276.6L423.7 279.8L423.9 295.5L424.1 281.4L424.3 270.6L424.5 275.3L424.7 275.4L424.9 270.2L425.1 291L425.3 284.3L425.5 291.2L425.7 290L425.9 276.2L426.1 284.5L426.3 291.9L426.5 269.1L426.7 271.3L426.9 286.9L427.1 266.9L427.3 280.8L427.5 281L427.7 285.8L427.9 295.5L428.1 295.5L428.3 273.9L428.5 286.4L428.7 281.1L428.9 270.7L429.1 289.8L429.3 285.6L429.5 286.6L429.7 289.1L429.9 280.3L430.1 274.4L430.3 289.5L430.5 287.2L430.7 263.9L430.9 295.5L431.1 280.6L431.3 295.5L431.5 291.9L431.7 281.6L431.9 290.1L432.1 284.1L432.3 286.8L432.5 291.8L432.7 286.1L432.9 285.5L433.1 281.4L433.3 295.5L433.5 291.4L433.7 276.2L433.9 287.2L434.1 271.2L434.3 274.8L434.5 287L434.7 284.8L434.9 295.5L435.1 291.1L435.3 279L435.5 280L435.7 283.9L435.9 291L436.1 290L436.3 295.5L436.5 282.2L436.7 280.4L436.9 272.1L437.1 285.4L437.3 289.3L437.5 286L437.7 290.9L437.9 278.9L438.1 285.6L438.3 284.4L438.5 285.3L438.7 266.9L438.9 276.1L439.1 284.1L439.3 286.5L439.5 295.5L439.7 289.2L439.9 275.2L440.1 280.9L440.3 268.9L440.5 289.7L440.7 291L440.9 286.3L441.1 292.2L441.3 290.1L441.5 295.5L441.7 286.2L441.9 295.5L442.1 290.3L442.3 290.9L442.5 287.2L442.7 287.1L442.9 270.2L443.1 287.2L443.3 295.5L443.5 291.5L443.7 276.2L443.9 290.1L444.1 295.5L444.3 290.2L444.5 289.4L444.7 291.9L444.9 284.7L445.1 295.5L445.3 295.5L445.5 286.6L445.7 289.9L445.9 280.2L446.1 295.5L446.3 290.2L446.5 295.5L446.7 295.5L446.9 288.9L447.1 274L447.3 292.1L447.5 292.1L447.7 283.8L447.9 290.3L448.1 283.8L448.3 295.5L448.5 292.1L448.7 282.1L448.9 295.5L449.1 276.4L449.3 286.4L449.5 279L449.7 290.1L449.9 295.5L450.1 295.5L450.3 295.5L450.5 295.5L450.7 286.1L450.9 292L451.1 295.5L451.3 284.8L451.5 295.5L451.7 295.5L451.9 289.5L452.1 295.5L452.3 289L452.5 295.5L452.7 295.5L452.9 295.5L453.1 295.5L453.3 280.6L453.5 291.1L453.7 287L453.9 291.9L454.1 289.5L454.3 295.5L454.5 295.5L454.7 295.5L454.9 290L455.1 290.3L455.3 295.5L455.5 295.5L455.7 289.9L455.9 295.5L456.1 295.5L456.3 284.8L456.5 295.5L456.7 295.5L456.9 295.5L457.1 295.5L457.3 295.5L457.5 295.5L457.7 295.5L457.9 295.5L458.1 289.7L458.3 290L458.5 290.9L458.7 295.5L458.9 289.2L459.1 295.5L459.3 289.2L459.5 295.5L459.7 289.1L459.9 295.5L460.1 295.5L460.3 290.9L460.5 289.3L460.7 295.5L460.9 288.9L461.1 295.5L461.3 291.4L461.5 295.5L461.7 295.5L461.9 295.5L462.1 295.5L462.3 295.5L462.5 295.5L462.7 295.5L462.9 295.5L463.1 295.5L463.3 295.5L463.5 295.5L463.7 295.5L463.9 295.5L464.1 295.5L464.3 295.5L464.5 295.5L464.7 295.5L464.9 289.3L465.1 295.5L465.3 295.5L465.5 290.8L465.7 295.5L465.9 295.5L466.1 295.5L466.3 295.5L466.5 295.5L466.7 295.5L466.9 295.5L467.1 295.5L467.3 295.5L467.5 295.5L467.7 295.5L467.9 295.5L468.1 295.5L468.3 295.5L468.5 295.5L468.7 295.5L468.9 295.5L469.1 295.5L469.3 295.5L469.5 295.5L469.7 295.5L469.9 295.5L470.1 295.5L470.3 295.5L470.5 295.5L470.7 295.5L470.9 295.5L471.1 295.5L471.3 295.5L471.5 295.5L471.7 295.5L471.9 295.5L472.1 295.5L472.3 295.5L472.5 295.5L472.7 295.5L472.9 295.5L473.1 295.5L473.3 295.5L473.5 295.5L473.7 295.5L473.9 295.5L474.1 289.9L474.3 295.5L474.5 295.5L474.7 295.5L474.9 295.5L475.1 295.5L475.3 295.5L475.5 295.5L475.7 295.5L475.9 295.5L476.1 295.5L476.3 295.5L476.5 295.5L476.7 295.5L476.9 295.5L477.1 295.5L477.3 289L477.5 295.5L477.7 295.5L477.9 291.4L478.1 295.5L478.3 295.5L478.5 295.5L478.7 295.5L478.9 295.5L479.1 295.5L479.3 295.5L479.5 295.5L479.7 295.5L479.9 295.5L480.1 295.5L480.3 295.5L480.5 295.5L480.7 295.5L480.9 295.5L481.1 290.7L481.3 295.5L481.5 295.5L481.7 295.5L481.9 295.5L482.1 295.5L482.3 295.5L482.5 295.5L482.7 295.5L482.9 295.5" stroke="#000" stroke-width="1.12" fill="none" stroke-linejoin="bevel"/>
<path d="M383.5 204.4H518" stroke="#5a5a5a" stroke-width="1.0" fill="none"/>
<path d="M517.5 204.4V296.2" stroke="#555" stroke-width="1.1" fill="none"/>
<path d="M383.5 203.9V297" stroke="#111" stroke-width="1.6" fill="none"/>
<path d="M382.7 296.2H518.1" stroke="#000" stroke-width="1.6" fill="none"/>
<path d="M380.9 284.7h2.2M380.9 273.2h2.2M380.9 261.8h2.2M380.9 250.3h2.2M380.9 238.8h2.2M380.9 227.3h2.2M380.9 215.9h2.2" stroke="#a8a8a8" stroke-width="0.9"/>
<path d="M383.5 297.4v2M393.6 297.4v1.3M399.5 297.4v1.3M403.7 297.4v1.3M406.9 297.4v1.3M409.6 297.4v1.3M411.8 297.4v1.3M413.8 297.4v1.3M415.5 297.4v1.3M417 297.4v2M427.1 297.4v1.3M433 297.4v1.3M437.2 297.4v1.3M440.4 297.4v1.3M443.1 297.4v1.3M445.3 297.4v1.3M447.3 297.4v1.3M449 297.4v1.3M450.5 297.4v2M460.6 297.4v1.3M466.5 297.4v1.3M470.7 297.4v1.3M473.9 297.4v1.3M476.6 297.4v1.3M478.8 297.4v1.3M480.8 297.4v1.3M482.5 297.4v1.3M484 297.4v2M494.1 297.4v1.3M500 297.4v1.3M504.2 297.4v1.3M507.4 297.4v1.3M510.1 297.4v1.3M512.3 297.4v1.3M514.3 297.4v1.3M516 297.4v1.3" stroke="#b8b8b8" stroke-width="0.7"/>
<path d="M426.7 227.7H517.5M426.7 222.7v10M517.5 222.7v10" stroke="#000" stroke-width="1.35" fill="none"/>
<text transform="translate(426.2 221.5) scale(0.990 1)" font-size="15.4" font-weight="bold" fill="#000" stroke="#000" stroke-width="0.25">20.0%</text>
<text transform="translate(478.8 219.7) scale(0.975 1)" font-size="15.4" font-weight="bold" fill="#808080" stroke="#808080" stroke-width="0.25">3.1%</text>
<path d="M212.7 466.2L212.9 463L213.1 466.2L213.3 463.7L213.5 466.2L213.7 466.2L213.9 466.2L214.1 464.3L214.3 463.9L214.5 466.2L214.7 463.5L214.9 466.2L215.1 466.2L215.3 466.2L215.5 466.2L215.7 466.2L215.9 466.2L216.1 462L216.3 466.2L216.5 461.1L216.7 466.2L216.9 462.9L217.1 466.2L217.3 458.8L217.5 463.2L217.7 463.7L217.9 466.2L218.1 466.2L218.3 466.2L218.5 466.2L218.7 458.5L218.9 456.4L219.1 466.2L219.3 461.7L219.5 466.2L219.7 466.2L219.9 463.5L220.1 462.9L220.3 463.1L220.5 463.9L220.7 462.1L220.9 463.7L221.1 460.7L221.3 466.2L221.5 462.9L221.7 464.2L221.9 461.4L222.1 456.9L222.3 455.7L222.5 456.9L222.7 466.2L222.9 466.2L223.1 461.3L223.3 464.5L223.5 466.2L223.7 466.2L223.9 464.2L224.1 455.4L224.3 463.1L224.5 461.1L224.7 462L224.9 463L225.1 463.5L225.3 459.2L225.5 456.3L225.7 463.9L225.9 461.8L226.1 464L226.3 456L226.5 459L226.7 461.6L226.9 466.2L227.1 464.3L227.3 466.2L227.5 463.5L227.7 460.5L227.9 459.3L228.1 459.4L228.3 455.7L228.5 466.2L228.7 466.2L228.9 463.1L229.1 466.2L229.3 453.7L229.5 460.7L229.7 466.2L229.9 464.4L230.1 463.9L230.3 463.6L230.5 459.6L230.7 458.5L230.9 461.3L231.1 454L231.3 461.8L231.5 463.9L231.7 464.4L231.9 461.3L232.1 466.2L232.3 464.5L232.5 458.9L232.7 456.3L232.9 461.5L233.1 463.3L233.3 463.1L233.5 464.5L233.7 464.1L233.9 461.6L234.1 458L234.3 458.2L234.5 461.9L234.7 460.8L234.9 463.2L235.1 458.1L235.3 463.9L235.5 463.1L235.7 461.2L235.9 458.8L236.1 466.2L236.3 461.8L236.5 463.9L236.7 452.8L236.9 466.2L237.1 458.1L237.3 461L237.5 466.2L237.7 461L237.9 457.9L238.1 460.9L238.3 464.1L238.5 466.2L238.7 466.2L238.9 461.9L239.1 460.9L239.3 464.2L239.5 458.4L239.7 461.6L239.9 466.2L240.1 464.1L240.3 466.2L240.5 464L240.7 463.6L240.9 463.5L241.1 462.9L241.3 462.1L241.5 463.7L241.7 461.9L241.9 463.9L242.1 466.2L242.3 466.2L242.5 466.2L242.7 461L242.9 463.9L243.1 464.2L243.3 463.2L243.5 463.7L243.7 461.9L243.9 464.4L244.1 460.8L244.3 460.4L244.5 466.2L244.7 461.4L244.9 458.2L245.1 463.8L245.3 462.1L245.5 460.8L245.7 466.2L245.9 460.6L246.1 466.2L246.3 463.3L246.5 466.2L246.7 466.2L246.9 466.2L247.1 464L247.3 466.2L247.5 466.2L247.7 466.2L247.9 463.2L248.1 466.2L248.3 464.4L248.5 466.2L248.7 463.6L248.9 466.2L249.1 466.2L249.3 457.9L249.5 466.2L249.7 464.6L249.9 466.2L250.1 466.2L250.3 466.2L250.5 466.2L250.7 466.2L250.9 463.4" stroke="#808080" stroke-width="1.05" fill="none" stroke-linejoin="bevel"/>
<path d="M212.7 466.2L212.9 466.2L213.1 466.2L213.3 466.2L213.5 466.2L213.7 460.7L213.9 452.7L214.1 466.2L214.3 463.2L214.5 460.5L214.7 452.7L214.9 460.5L215.1 466.2L215.3 466.2L215.5 462.3L215.7 463.3L215.9 461.3L216.1 457.5L216.3 457.1L216.5 456.8L216.7 458.6L216.9 466.2L217.1 466.2L217.3 450.5L217.5 453.7L217.7 466.2L217.9 457.6L218.1 462.3L218.3 460.4L218.5 466.2L218.7 466.2L218.9 458.3L219.1 440.4L219.3 458.1L219.5 454.4L219.7 452.2L219.9 458.6L220.1 462.1L220.3 454.7L220.5 448.9L220.7 449.2L220.9 448.3L221.1 457.6L221.3 459L221.5 454.5L221.7 466.2L221.9 453.2L222.1 466.2L222.3 446L222.5 447.8L222.7 444.2L222.9 457.1L223.1 453.4L223.3 458.8L223.5 457L223.7 457.8L223.9 453.6L224.1 463.4L224.3 460.6L224.5 452.9L224.7 439.9L224.9 456.6L225.1 461.3L225.3 452.1L225.5 443.6L225.7 424L225.9 458L226.1 452.2L226.3 457.4L226.5 430.5L226.7 428.5L226.9 440.3L227.1 444.9L227.3 428.2L227.5 444.4L227.7 433.3L227.9 444L228.1 439.1L228.3 439.4L228.5 441.6L228.7 448.3L228.9 423.6L229.1 430.8L229.3 452.9L229.5 420.1L229.7 441.6L229.9 444.8L230.1 417.8L230.3 444.7L230.5 426.8L230.7 427.1L230.9 415.6L231.1 436.2L231.3 417.9L231.5 432L231.7 431.1L231.9 444.2L232.1 422.6L232.3 420.1L232.5 388.3L232.7 409.7L232.9 405.7L233.1 430.8L233.3 422L233.5 426L233.7 389.9L233.9 406.2L234.1 428.4L234.3 423.5L234.5 432.5L234.7 423L234.9 413.3L235.1 419L235.3 421.9L235.5 428.8L235.7 423.5L235.9 443.4L236.1 394.3L236.3 398.3L236.5 410.9L236.7 405.2L236.9 411L237.1 401.8L237.3 397.1L237.5 387.8L237.7 408.9L237.9 430.4L238.1 430.6L238.3 423.9L238.5 413.2L238.7 418.5L238.9 414.4L239.1 400.7L239.3 418.8L239.5 406.9L239.7 436.4L239.9 435.3L240.1 404.9L240.3 440.2L240.5 427.7L240.7 431.7L240.9 413.7L241.1 428.7L241.3 402.2L241.5 440.5L241.7 439L241.9 426.8L242.1 430.6L242.3 427.3L242.5 432.6L242.7 406.1L242.9 423.7L243.1 445.5L243.3 424.2L243.5 409L243.7 428.2L243.9 427.9L244.1 428.6L244.3 447.8L244.5 434.9L244.7 454.7L244.9 431.1L245.1 444.6L245.3 429L245.5 422.3L245.7 427.7L245.9 439.4L246.1 439.7L246.3 458.7L246.5 444.2L246.7 443.5L246.9 457.2L247.1 452.2L247.3 445.7L247.5 458.4L247.7 458.5L247.9 431.1L248.1 456.9L248.3 441.6L248.5 461.1L248.7 453.6L248.9 444.4L249.1 448L249.3 439.6L249.5 460.9L249.7 450.3L249.9 443.7L250.1 447.6L250.3 447.7L250.5 450.1L250.7 466.2L250.9 453.6L251.1 458.5L251.3 460.6L251.5 462.3L251.7 457L251.9 457.4L252.1 459.1L252.3 466.2L252.5 457.3L252.7 466.2L252.9 456.8L253.1 466.2L253.3 462L253.5 462.2L253.7 466.2L253.9 466.2L254.1 466.2L254.3 466.2L254.5 462.3L254.7 466.2L254.9 466.2L255.1 466.2L255.3 466.2L255.5 466.2L255.7 462.8L255.9 466.2L256.1 466.2L256.3 463.2L256.5 461.7L256.7 466.2L256.9 466.2L257.1 462.3L257.3 466.2L257.5 466.2L257.7 466.2L257.9 466.2L258.1 460.9L258.3 466.2L258.5 466.2L258.7 466.2L258.9 466.2L259.1 461.8L259.3 462L259.5 466.2L259.7 466.2L259.9 466.2L260.1 466.2L260.3 466.2L260.5 466.2L260.7 460.5L260.9 466.2L261.1 466.2L261.3 466.2L261.5 466.2L261.7 466.2L261.9 466.2L262.1 462.6L262.3 460.9L262.5 466.2L262.7 466.2L262.9 466.2L263.1 466.2L263.3 466.2L263.5 466.2L263.7 466.2L263.9 466.2L264.1 466.2L264.3 466.2L264.5 466.2L264.7 466.2L264.9 466.2L265.1 466.2L265.3 466.2L265.5 466.2L265.7 466.2L265.9 466.2" stroke="#000" stroke-width="1.12" fill="none" stroke-linejoin="bevel"/>
<path d="M211.5 374.6H346.1" stroke="#5a5a5a" stroke-width="1.0" fill="none"/>
<path d="M345.6 374.6V466.9" stroke="#444" stroke-width="1.1" fill="none"/>
<path d="M211.5 374.1V467.7" stroke="#111" stroke-width="1.6" fill="none"/>
<path d="M210.7 466.9H346.2" stroke="#000" stroke-width="1.6" fill="none"/>
<path d="M208.9 455.4h2.2M208.9 443.8h2.2M208.9 432.3h2.2M208.9 420.8h2.2M208.9 409.2h2.2M208.9 397.7h2.2M208.9 386.1h2.2" stroke="#a8a8a8" stroke-width="0.9"/>
<path d="M211.5 468.1v2M221.6 468.1v1.3M227.5 468.1v1.3M231.7 468.1v1.3M234.9 468.1v1.3M237.6 468.1v1.3M239.8 468.1v1.3M241.8 468.1v1.3M243.5 468.1v1.3M245 468.1v2M255.1 468.1v1.3M261 468.1v1.3M265.2 468.1v1.3M268.5 468.1v1.3M271.1 468.1v1.3M273.4 468.1v1.3M275.3 468.1v1.3M277 468.1v1.3M278.6 468.1v2M288.6 468.1v1.3M294.5 468.1v1.3M298.7 468.1v1.3M302 468.1v1.3M304.6 468.1v1.3M306.9 468.1v1.3M308.8 468.1v1.3M310.5 468.1v1.3M312.1 468.1v2M322.2 468.1v1.3M328.1 468.1v1.3M332.3 468.1v1.3M335.5 468.1v1.3M338.2 468.1v1.3M340.4 468.1v1.3M342.4 468.1v1.3M344.1 468.1v1.3" stroke="#b8b8b8" stroke-width="0.7"/>
<path d="M254.9 400.5H345.6M254.9 395.3v10.4M345.6 395.3v10.4" stroke="#000" stroke-width="1.35" fill="none"/>
<text transform="translate(258.5 390.5) scale(1.003 1)" font-size="15.4" font-weight="bold" fill="#000" stroke="#000" stroke-width="0.25">2.9%</text>
<text transform="translate(307.1 390.5) scale(0.985 1)" font-size="15.4" font-weight="bold" fill="#808080" stroke="#808080" stroke-width="0.25">0.6%</text>
<path d="M385.7 465.8L385.9 465.8L386.1 465.8L386.3 465.8L386.5 465.8L386.7 465.8L386.9 465.8L387.1 465.8L387.3 465.8L387.5 465.8L387.7 465.8L387.9 465.8L388.1 465.8L388.3 465.8L388.5 465.8L388.7 465.8L388.9 465.8L389.1 465.8L389.3 465.8L389.5 465.8L389.7 465.8L389.9 465.8L390.1 465.8L390.3 465.8L390.5 465.8L390.7 465.8L390.9 465.8L391.1 465.8L391.3 465.8L391.5 465.8L391.7 465.8L391.9 460.8L392.1 465.8L392.3 465.8L392.5 465.8L392.7 465.8L392.9 465.8L393.1 465.8L393.3 465.8L393.5 465.8L393.7 465.8L393.9 461.7L394.1 465.8L394.3 465.8L394.5 465.8L394.7 465.8L394.9 465.8L395.1 465.8L395.3 465.8L395.5 465.8L395.7 465.8L395.9 465.8L396.1 465.8L396.3 465.8L396.5 460.1L396.7 456.4L396.9 465.8L397.1 465.8L397.3 465.8L397.5 462.4L397.7 465.8L397.9 465.8L398.1 465.8L398.3 462.4L398.5 460.8L398.7 465.8L398.9 465.8L399.1 461.3L399.3 465.8L399.5 456.5L399.7 465.8L399.9 461.3L400.1 465.8L400.3 465.8L400.5 457.2L400.7 462.5L400.9 460.4L401.1 465.8L401.3 456.6L401.5 449.2L401.7 461.1L401.9 462.7L402.1 461.9L402.3 465.8L402.5 462.8L402.7 462.3L402.9 465.8L403.1 456.7L403.3 456.4L403.5 455.3L403.7 447.4L403.9 461.7L404.1 459.9L404.3 465.8L404.5 462.4L404.7 458.2L404.9 452.9L405.1 465.8L405.3 456.6L405.5 456.8L405.7 451.8L405.9 462.6L406.1 462.2L406.3 457.7L406.5 460.9L406.7 438.1L406.9 451L407.1 458L407.3 461.5L407.5 455.7L407.7 462.2L407.9 442.9L408.1 447.4L408.3 447.2L408.5 449.4L408.7 465.8L408.9 451.5L409.1 447.6L409.3 444.6L409.5 451.2L409.7 447.5L409.9 462.1L410.1 452.9L410.3 448.9L410.5 443.6L410.7 465.8L410.9 460L411.1 452.9L411.3 443.4L411.5 451L411.7 437.4L411.9 465.8L412.1 465.8L412.3 459.8L412.5 444.5L412.7 439L412.9 450.9L413.1 455.4L413.3 458.1L413.5 461.7L413.7 465.8L413.9 465.8L414.1 444.1L414.3 455.4L414.5 457.8L414.7 465.8L414.9 459.9L415.1 460.3L415.3 448.5L415.5 465.8L415.7 460.6L415.9 465.8L416.1 462.5L416.3 462.8L416.5 455.7L416.7 447.9L416.9 457.1L417.1 462.8L417.3 465.8L417.5 462.4L417.7 465.8L417.9 456L418.1 460.8L418.3 457.6L418.5 465.8L418.7 465.8L418.9 461.2L419.1 465.8L419.3 465.8L419.5 456.4L419.7 461.8L419.9 460.6L420.1 465.8L420.3 465.8L420.5 461.9L420.7 461.5L420.9 456.4L421.1 465.8L421.3 465.8L421.5 462.1L421.7 456.2L421.9 465.8L422.1 462.8L422.3 460.3L422.5 465.8L422.7 462.5L422.9 465.8L423.1 465.8L423.3 465.8L423.5 465.8L423.7 461.8L423.9 465.8L424.1 465.8L424.3 465.8L424.5 461.6L424.7 465.8L424.9 465.8L425.1 465.8L425.3 465.8L425.5 462.5L425.7 465.8L425.9 465.8L426.1 465.8L426.3 465.8L426.5 465.8L426.7 465.8L426.9 465.8L427.1 465.8L427.3 465.8L427.5 465.8L427.7 465.8L427.9 465.8L428.1 465.8L428.3 465.8L428.5 465.8L428.7 465.8L428.9 465.8L429.1 465.8L429.3 465.8L429.5 465.8L429.7 465.8L429.9 465.8L430.1 465.8L430.3 465.8L430.5 465.8L430.7 461.6L430.9 456.4L431.1 462L431.3 465.8L431.5 465.8L431.7 465.8L431.9 462.6L432.1 465.8L432.3 465.8L432.5 465.8L432.7 457.6L432.9 465.8L433.1 465.8L433.3 460.9L433.5 465.8L433.7 465.8L433.9 465.8L434.1 465.8L434.3 465.8L434.5 465.8L434.7 465.8L434.9 465.8L435.1 465.8L435.3 465.8L435.5 465.8L435.7 465.8L435.9 465.8" stroke="#808080" stroke-width="1.05" fill="none" stroke-linejoin="bevel"/>
<path d="M385.7 465.8L385.9 460.7L386.1 465.8L386.3 465.8L386.5 451L386.7 457.2L386.9 465.8L387.1 457.7L387.3 465.8L387.5 449L387.7 465.8L387.9 460L388.1 465.8L388.3 456.4L388.5 465.8L388.7 460.9L388.9 465.8L389.1 452.4L389.3 460.3L389.5 465.8L389.7 451.7L389.9 462.5L390.1 461.4L390.3 460L390.5 462.8L390.7 461.5L390.9 455.7L391.1 465.8L391.3 456.8L391.5 457.3L391.7 443.8L391.9 449.1L392.1 465.8L392.3 458.3L392.5 455.4L392.7 456.2L392.9 442.2L393.1 449L393.3 451.1L393.5 453L393.7 461L393.9 455.4L394.1 457.8L394.3 455.4L394.5 442.9L394.7 451.9L394.9 461L395.1 451.6L395.3 455.7L395.5 434L395.7 453.8L395.9 455.9L396.1 447.2L396.3 446.6L396.5 447.2L396.7 451.7L396.9 457.8L397.1 439.8L397.3 456L397.5 459.9L397.7 451.8L397.9 453L398.1 456.4L398.3 457L398.5 455.9L398.7 442.1L398.9 453.5L399.1 453.4L399.3 439.1L399.5 452.7L399.7 457.2L399.9 453.2L400.1 438.8L400.3 442.9L400.5 453.2L400.7 461.1L400.9 447.8L401.1 461.7L401.3 452.3L401.5 452.6L401.7 453.8L401.9 431.1L402.1 442.6L402.3 460.1L402.5 428.6L402.7 424.1L402.9 434L403.1 451.5L403.3 449.3L403.5 433.2L403.7 430.1L403.9 453.4L404.1 444.5L404.3 430L404.5 422.2L404.7 447L404.9 429.5L405.1 447.8L405.3 453L405.5 430.2L405.7 435.7L405.9 416.3L406.1 449.1L406.3 439.7L406.5 419.4L406.7 444.5L406.9 439.3L407.1 439.1L407.3 439.5L407.5 453L407.7 432.9L407.9 439.1L408.1 431.2L408.3 428.3L408.5 452.9L408.7 451.8L408.9 410.8L409.1 447.8L409.3 433.2L409.5 424L409.7 424.9L409.9 452.4L410.1 416.1L410.3 453.8L410.5 434.8L410.7 437.8L410.9 415.9L411.1 455.2L411.3 423.9L411.5 451.5L411.7 437.7L411.9 438L412.1 429.6L412.3 438.3L412.5 452.1L412.7 453L412.9 439.4L413.1 442.7L413.3 456.7L413.5 437.3L413.7 453L413.9 433.4L414.1 453L414.3 413.3L414.5 439.7L414.7 438.5L414.9 434.9L415.1 431.4L415.3 448.7L415.5 460.8L415.7 455.8L415.9 448.1L416.1 439.8L416.3 460.1L416.5 421.3L416.7 453.4L416.9 442.6L417.1 451.5L417.3 453L417.5 461.4L417.7 455.3L417.9 429.5L418.1 447.9L418.3 456.7L418.5 429.4L418.7 437.8L418.9 435.8L419.1 452.5L419.3 452.6L419.5 447.4L419.7 447L419.9 455.8L420.1 453L420.3 459.9L420.5 465.8L420.7 452L420.9 447.6L421.1 453.3L421.3 447.3L421.5 452.1L421.7 462.6L421.9 462.9L422.1 439.1L422.3 451.9L422.5 453.5L422.7 460.2L422.9 461L423.1 448.4L423.3 446.7L423.5 444.6L423.7 448.6L423.9 465.8L424.1 461.4L424.3 451.6L424.5 462.2L424.7 459.8L424.9 460.3L425.1 460.3L425.3 452.3L425.5 452.8L425.7 462.2L425.9 458.1L426.1 455.6L426.3 448L426.5 460L426.7 455.9L426.9 451.6L427.1 465.8L427.3 447L427.5 456.4L427.7 462.1L427.9 465.8L428.1 453.8L428.3 460.4L428.5 462L428.7 461.2L428.9 465.8L429.1 462.1L429.3 461L429.5 461.6L429.7 465.8L429.9 455.7L430.1 461.9L430.3 465.8L430.5 465.8L430.7 450.8L430.9 460.6L431.1 465.8L431.3 465.8L431.5 465.8L431.7 461L431.9 465.8L432.1 465.8L432.3 456.1L432.5 465.8L432.7 465.8L432.9 465.8L433.1 461.7L433.3 460.4L433.5 465.8L433.7 465.8L433.9 465.8L434.1 465.8L434.3 461L434.5 465.8L434.7 461.8L434.9 465.8L435.1 465.8L435.3 462.7L435.5 465.8L435.7 462.8L435.9 465.8L436.1 465.8L436.3 465.8L436.5 462.2L436.7 465.8L436.9 462.8L437.1 465.8L437.3 465.8L437.5 460.8L437.7 465.8L437.9 462.1L438.1 465.8L438.3 461.6L438.5 465.8L438.7 465.8L438.9 465.8L439.1 465.8L439.3 465.8L439.5 465.8L439.7 460.5L439.9 465.8L440.1 465.8L440.3 462.3L440.5 465.8L440.7 461L440.9 462.2L441.1 465.8L441.3 460.6L441.5 456.4L441.7 465.8L441.9 461L442.1 465.8L442.3 465.8L442.5 465.8L442.7 465.8L442.9 465.8L443.1 462.7L443.3 465.8L443.5 460.9L443.7 465.8L443.9 465.8L444.1 465.8L444.3 461.9L444.5 465.8L444.7 465.8L444.9 465.8L445.1 461.5L445.3 465.8L445.5 465.8L445.7 465.8L445.9 465.8L446.1 465.8L446.3 465.8L446.5 465.8L446.7 465.8L446.9 465.8L447.1 465.8L447.3 462.8L447.5 465.8L447.7 465.8L447.9 460.7L448.1 465.8L448.3 465.8L448.5 465.8L448.7 465.8L448.9 465.8L449.1 465.8L449.3 465.8L449.5 465.8L449.7 465.8L449.9 465.8L450.1 465.8L450.3 465.8L450.5 465.8L450.7 465.8L450.9 465.8L451.1 465.8L451.3 465.8L451.5 465.8L451.7 465.8L451.9 465.8L452.1 465.8L452.3 465.8L452.5 465.8L452.7 465.8L452.9 465.8L453.1 465.8L453.3 465.8L453.5 465.8L453.7 465.8L453.9 465.8L454.1 465.8L454.3 465.8L454.5 465.8L454.7 465.8L454.9 465.8L455.1 465.8L455.3 465.8L455.5 465.8L455.7 465.8L455.9 465.8L456.1 465.8L456.3 465.8L456.5 465.8L456.7 465.8L456.9 465.8L457.1 465.8L457.3 465.8L457.5 465.8L457.7 465.8L457.9 465.8L458.1 465.8L458.3 465.8L458.5 465.8L458.7 465.8L458.9 465.8L459.1 465.8L459.3 465.8L459.5 465.8L459.7 465.8L459.9 465.8L460.1 465.8L460.3 465.8L460.5 465.8L460.7 465.8L460.9 465.8" stroke="#000" stroke-width="1.12" fill="none" stroke-linejoin="bevel"/>
<path d="M384.5 374.3H518.2" stroke="#5a5a5a" stroke-width="1.0" fill="none"/>
<path d="M517.7 374.3V466.5" stroke="#888" stroke-width="1.4" fill="none"/>
<path d="M384.5 373.8V467.3" stroke="#2e2e2e" stroke-width="1.5" fill="none"/>
<path d="M383.7 466.5H518.3" stroke="#000" stroke-width="1.6" fill="none"/>
<path d="M381.9 455h2.2M381.9 443.4h2.2M381.9 431.9h2.2M381.9 420.4h2.2M381.9 408.9h2.2M381.9 397.4h2.2M381.9 385.8h2.2" stroke="#a8a8a8" stroke-width="0.9"/>
<path d="M384.5 467.7v2M394.5 467.7v1.3M400.4 467.7v1.3M404.5 467.7v1.3M407.8 467.7v1.3M410.4 467.7v1.3M412.6 467.7v1.3M414.6 467.7v1.3M416.3 467.7v1.3M417.8 467.7v2M427.8 467.7v1.3M433.7 467.7v1.3M437.8 467.7v1.3M441.1 467.7v1.3M443.7 467.7v1.3M445.9 467.7v1.3M447.9 467.7v1.3M449.6 467.7v1.3M451.1 467.7v2M461.1 467.7v1.3M467 467.7v1.3M471.1 467.7v1.3M474.4 467.7v1.3M477 467.7v1.3M479.2 467.7v1.3M481.2 467.7v1.3M482.9 467.7v1.3M484.4 467.7v2M494.4 467.7v1.3M500.3 467.7v1.3M504.4 467.7v1.3M507.7 467.7v1.3M510.3 467.7v1.3M512.5 467.7v1.3M514.5 467.7v1.3M516.2 467.7v1.3" stroke="#b8b8b8" stroke-width="0.7"/>
<path d="M427.3 399H518M427.3 393.7v10.6M518 393.7v10.6" stroke="#111" stroke-width="1.15" fill="none"/>
<text transform="translate(429.1 391.8) scale(0.984 1)" font-size="15.4" font-weight="bold" fill="#000" stroke="#000" stroke-width="0.25">5.0%</text>
<text transform="translate(480.6 391) scale(0.997 1)" font-size="15.4" font-weight="bold" fill="#808080" stroke="#808080" stroke-width="0.25">0.3%</text>
</svg>
</body></html>
